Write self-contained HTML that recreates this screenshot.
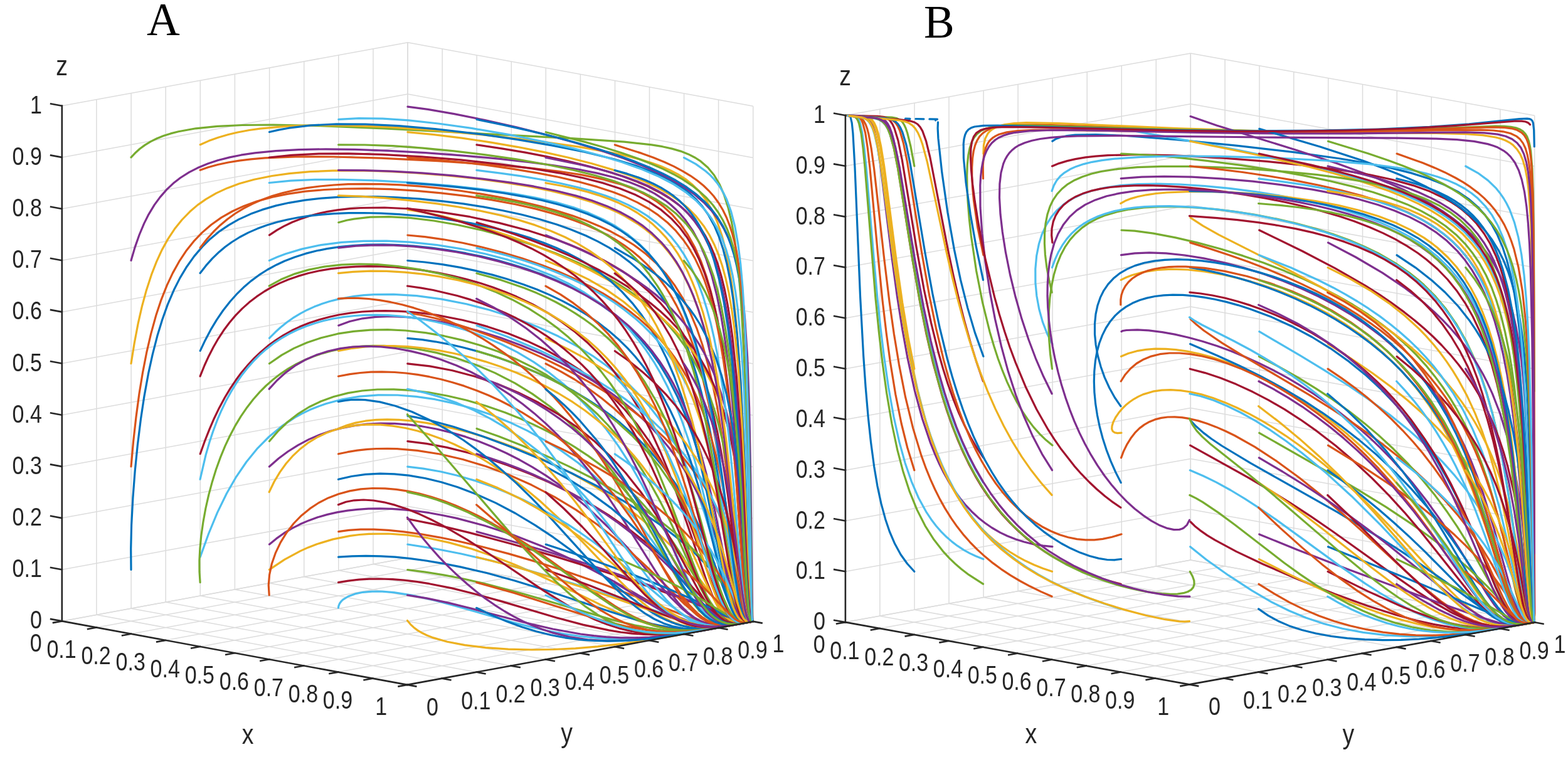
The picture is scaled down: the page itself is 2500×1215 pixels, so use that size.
<!DOCTYPE html>
<html><head><meta charset="utf-8"><style>
html,body{margin:0;padding:0;background:#fff;}
svg{display:block}
.g{stroke:#dcdcdc;stroke-width:1.5}
.a{stroke:#262626;stroke-width:2.6;stroke-linecap:square}
.tr path{fill:none;stroke-width:3.2;stroke-linejoin:round;stroke-linecap:round}
.t{font-family:"Liberation Sans",Arial,sans-serif;font-size:40px;fill:#262626}
.l{font-family:"Liberation Sans",Arial,sans-serif;font-size:44px;fill:#262626}
.h{font-family:"Liberation Serif","Times New Roman",serif;font-size:73px;fill:#000}
</style></head><body>
<svg width="2500" height="1215" viewBox="0 0 2500 1215">
<rect width="2500" height="1215" fill="#fff"/>
<line x1="98.8" y1="990.4" x2="98.8" y2="168.7" class="g"/>
<line x1="98.8" y1="990.4" x2="650.1" y2="889.4" class="g"/>
<line x1="650.1" y1="889.4" x2="650.1" y2="67.7" class="g"/>
<line x1="650.1" y1="889.4" x2="1200.7" y2="990.9" class="g"/>
<line x1="98.8" y1="990.4" x2="650.1" y2="889.4" class="g"/>
<line x1="98.8" y1="990.4" x2="649.4" y2="1091.9" class="g"/>
<line x1="153.9" y1="980.3" x2="153.9" y2="158.6" class="g"/>
<line x1="98.8" y1="908.2" x2="650.1" y2="807.2" class="g"/>
<line x1="705.2" y1="899.5" x2="705.2" y2="77.8" class="g"/>
<line x1="650.1" y1="807.2" x2="1200.7" y2="908.7" class="g"/>
<line x1="153.9" y1="1000.5" x2="705.2" y2="899.5" class="g"/>
<line x1="153.9" y1="980.3" x2="704.5" y2="1081.8" class="g"/>
<line x1="209.1" y1="970.2" x2="209.1" y2="148.5" class="g"/>
<line x1="98.8" y1="826.1" x2="650.1" y2="725.1" class="g"/>
<line x1="760.2" y1="909.7" x2="760.2" y2="88" class="g"/>
<line x1="650.1" y1="725.1" x2="1200.7" y2="826.6" class="g"/>
<line x1="208.9" y1="1010.7" x2="760.2" y2="909.7" class="g"/>
<line x1="209.1" y1="970.2" x2="759.7" y2="1071.7" class="g"/>
<line x1="264.2" y1="960.1" x2="264.2" y2="138.4" class="g"/>
<line x1="98.8" y1="743.9" x2="650.1" y2="642.9" class="g"/>
<line x1="815.3" y1="919.9" x2="815.3" y2="98.1" class="g"/>
<line x1="650.1" y1="642.9" x2="1200.7" y2="744.4" class="g"/>
<line x1="264" y1="1020.9" x2="815.3" y2="919.9" class="g"/>
<line x1="264.2" y1="960.1" x2="814.8" y2="1061.6" class="g"/>
<line x1="319.3" y1="950" x2="319.3" y2="128.3" class="g"/>
<line x1="98.8" y1="661.7" x2="650.1" y2="560.7" class="g"/>
<line x1="870.3" y1="930" x2="870.3" y2="108.3" class="g"/>
<line x1="650.1" y1="560.7" x2="1200.7" y2="662.2" class="g"/>
<line x1="319" y1="1031" x2="870.3" y2="930" class="g"/>
<line x1="319.3" y1="950" x2="869.9" y2="1051.5" class="g"/>
<line x1="374.4" y1="939.9" x2="374.4" y2="118.2" class="g"/>
<line x1="98.8" y1="579.5" x2="650.1" y2="478.5" class="g"/>
<line x1="925.4" y1="940.2" x2="925.4" y2="118.5" class="g"/>
<line x1="650.1" y1="478.5" x2="1200.7" y2="580.1" class="g"/>
<line x1="374.1" y1="1041.2" x2="925.4" y2="940.2" class="g"/>
<line x1="374.4" y1="939.9" x2="925" y2="1041.4" class="g"/>
<line x1="429.6" y1="929.8" x2="429.6" y2="108.1" class="g"/>
<line x1="98.8" y1="497.4" x2="650.1" y2="396.4" class="g"/>
<line x1="980.5" y1="950.3" x2="980.5" y2="128.6" class="g"/>
<line x1="650.1" y1="396.4" x2="1200.7" y2="497.9" class="g"/>
<line x1="429.2" y1="1051.3" x2="980.5" y2="950.3" class="g"/>
<line x1="429.6" y1="929.8" x2="980.2" y2="1031.3" class="g"/>
<line x1="484.7" y1="919.7" x2="484.7" y2="98" class="g"/>
<line x1="98.8" y1="415.2" x2="650.1" y2="314.2" class="g"/>
<line x1="1035.5" y1="960.5" x2="1035.5" y2="138.8" class="g"/>
<line x1="650.1" y1="314.2" x2="1200.7" y2="415.7" class="g"/>
<line x1="484.2" y1="1061.5" x2="1035.5" y2="960.5" class="g"/>
<line x1="484.7" y1="919.7" x2="1035.3" y2="1021.2" class="g"/>
<line x1="539.8" y1="909.6" x2="539.8" y2="87.9" class="g"/>
<line x1="98.8" y1="333" x2="650.1" y2="232" class="g"/>
<line x1="1090.6" y1="970.6" x2="1090.6" y2="148.9" class="g"/>
<line x1="650.1" y1="232" x2="1200.7" y2="333.5" class="g"/>
<line x1="539.3" y1="1071.6" x2="1090.6" y2="970.6" class="g"/>
<line x1="539.8" y1="909.6" x2="1090.4" y2="1011.1" class="g"/>
<line x1="595" y1="899.5" x2="595" y2="77.8" class="g"/>
<line x1="98.8" y1="250.9" x2="650.1" y2="149.9" class="g"/>
<line x1="1145.6" y1="980.8" x2="1145.6" y2="159" class="g"/>
<line x1="650.1" y1="149.9" x2="1200.7" y2="251.4" class="g"/>
<line x1="594.3" y1="1081.8" x2="1145.6" y2="980.8" class="g"/>
<line x1="595" y1="899.5" x2="1145.6" y2="1001" class="g"/>
<line x1="650.1" y1="889.4" x2="650.1" y2="67.7" class="g"/>
<line x1="98.8" y1="168.7" x2="650.1" y2="67.7" class="g"/>
<line x1="1200.7" y1="990.9" x2="1200.7" y2="169.2" class="g"/>
<line x1="650.1" y1="67.7" x2="1200.7" y2="169.2" class="g"/>
<line x1="649.4" y1="1091.9" x2="1200.7" y2="990.9" class="g"/>
<line x1="650.1" y1="889.4" x2="1200.7" y2="990.9" class="g"/>
<g class="tr"><path d="M209 908.3 208.7 874.9 209.6 837.3 211.9 793.7 215.2 750.8 219.4 709.2 224.5 668 230 631.6 236.7 594.9 243.3 564.8 250.9 535.3 258.7 509.8 267.4 485.4 277.3 462.3 287 443.1 297.8 425.2 309.6 408.6 322.6 393.4 334.9 381.2 350.3 368.6 364.8 358.8 380.5 349.9 399.8 341.1 418 334.4 440.2 327.9 461 323.3 486.2 319.1 513 316.1 541.3 314.2 570.8 313.4 601.6 313.6 633.2 314.8 669.6 317.2 706.2 320.8 738.7 324.9 770.7 329.9 801.9 335.7 832 342.3 860.8 349.7 887.9 358 910.3 365.9 934.1 375.7 953.5 385.1 971.6 395.2 988.2 406 1003.6 417.6 1017.8 429.9 1030.8 443 1044.3 458.9 1053.6 471.4 1063.6 486.7 1072.8 502.6 1081.1 519.1 1088.8 536.1 1096.8 556.2 1104 576.8 1110.5 597.7 1117.8 624.1 1124.3 650.7 1131.1 682.2 1137.5 715.4 1148.8 783.8 1168.4 917.6 1176.1 959.7 1181.1 977.3 1183.6 983.4 1186.2 987.6 1188.9 990.2 1191.9 991.5 1195.3 991.7 1200.7 990.9" stroke="#0072BD"/><path d="M209 743.9 212.6 703.9 217 664.7 222 627.5 227.7 593.1 233.7 562.2 240.7 532.1 248.7 503.1 256.9 478.3 266.2 454.9 275.4 435.4 285.5 417.2 296.6 400.3 308.8 384.9 322.2 370.9 336.9 358.2 352.9 346.9 370.3 337 389.1 328.4 409.5 321 434.3 314.2 458 309.4 486.6 305.2 517.1 302.5 549.4 301 583.2 300.7 622.4 301.7 662.6 304.1 703.3 307.8 743.8 312.6 783.5 318.6 821.8 325.7 854.5 333.1 878.6 339.6 898.3 345.5 917 351.9 934.7 358.8 951.4 366.2 967.1 374 981.8 382.4 995.5 391.3 1008.4 400.8 1020.3 410.8 1031.4 421.3 1041.8 432.5 1051.3 444.2 1061.7 458.5 1069.8 471.4 1078.6 487.1 1086.6 503.4 1094 520.3 1106.9 555.6 1119.2 597.8 1129.9 643.4 1138.2 685.9 1146.3 734.2 1154.6 791.8 1171.4 918.5 1175.9 946.8 1180 967.2 1184.1 980.7 1186.2 985.3 1188.4 988.6 1190.7 990.5 1193.2 991.5 1200.7 990.9" stroke="#D95319"/><path d="M209 579.6 214.2 547.2 220.2 515.6 226.4 488.4 233.5 462.4 241.5 437.9 249.4 417.6 258.1 398.6 267.8 381.1 278.4 365.1 290.1 350.5 302.9 337.3 315.1 326.9 328.3 317.6 344.6 308.1 362.4 299.9 381.6 292.8 405.1 286.2 433.6 280.5 461.4 276.6 494.7 273.7 530.4 272.2 572.1 271.9 616 273.1 661.2 275.6 711.2 279.6 756.7 284.5 800.8 290.3 842.8 297.2 878.6 304.4 911.7 312.5 942 321.6 969.4 331.9 984.5 338.6 996.3 344.6 1017.9 357.6 1027.8 364.7 1039 373.7 1047.6 381.6 1057.3 391.6 1064.8 400.5 1073.3 411.6 1081.1 423.3 1088.4 435.6 1101.3 462 1112.5 490.4 1122.8 523.2 1132.2 560.4 1140.6 601.6 1148.5 648.6 1154.2 689.3 1159.9 735.9 1178.2 915.1 1181.7 944.5 1184.8 964.9 1187.9 979.3 1191.3 987.8 1193 989.9 1195 991.1 1197.2 991.4 1200.7 990.9" stroke="#EDB120"/><path d="M209 415.3 215.2 394.1 222.1 374.5 229.7 356.4 237 341.8 246.2 326.6 255 314.6 265.9 302.1 276.3 292.3 287.6 283.5 301.6 274.6 314.9 267.8 331.3 261 346.9 255.8 366.1 250.9 384.2 247.2 406.4 243.9 439.7 240.6 476.2 238.6 519.4 237.8 565.9 238.4 619.3 240.3 678.9 243.6 738.8 248.1 797.2 253.4 844.5 258.7 884.8 264 921.8 270 952.3 276.1 979.7 283 1004.3 290.8 1026.2 299.6 1043.7 308.6 1061 319.8 1068.9 326 1077.7 334 1084.5 341 1092.2 350 1104.8 368.2 1115.7 388.4 1126 412.9 1134.9 439.8 1143 471.4 1150 505.4 1156.2 543.9 1161.9 586.6 1167.1 635.4 1174.8 728.7 1186.7 914.2 1190.8 964.3 1192.8 978.7 1194.8 987.2 1197.1 990.7 1198.5 991.2 1200.7 990.9" stroke="#7E2F8E"/><path d="M209 250.9 215.2 244.3 222.9 237.3 231.3 231.1 240.4 225.6 250.2 220.8 260.8 216.6 272.2 212.9 284.6 209.8 312.2 204.8 346.5 201.3 386.4 199.5 435.5 199 510.4 200.6 612.9 204.9 911.8 220.7 995.3 226.1 1038.8 230.9 1056.1 233.7 1071.5 237.1 1085.3 241.1 1097.6 245.9 1108.5 251.5 1117.2 257.2 1128.7 267.3 1138.6 279.3 1147 293.5 1154.2 310 1160.9 330.7 1166.5 354.4 1171.2 381.2 1175.4 413.3 1178.7 446 1181.5 481.1 1186.5 571.4 1190.9 700.4 1196.9 955.2 1198.5 985.2 1199.4 990.1 1199.9 990.9 1200.7 990.9" stroke="#77AC30"/><path d="M319.2 888.1 332.6 851 346.5 817.4 361.4 786.8 376.6 760.3 392.9 736.5 410.8 714.6 428.8 696.5 449.1 679.7 470.2 665.7 481.7 659.4 493.7 653.6 506.4 648.4 519.6 643.7 545.5 636.8 573.3 632.1 602.9 629.8 634 630 663.4 632.3 693.4 636.7 723.7 643.1 754 651.5 783.8 661.6 812.7 673.4 840.6 686.6 867 701.1 894.2 718.1 921.4 737.7 948.1 759.6 973.4 783.4 997.1 808.6 1018.6 834.2 1039.1 861 1057.8 887.6 1091.2 937 1103.6 954.3 1115.5 968.9 1126.1 979.6 1133.4 985.4 1140.8 989.9 1148.3 993 1156.3 994.9 1164.4 995.5 1173.5 995.2 1200.7 990.9" stroke="#4DBEEE"/><path d="M319.2 723.7 326.6 703 334.1 684.1 341.4 667.2 349.5 650.4 358.5 633.8 367 619.6 376.3 605.8 384.8 594.3 395.6 581.5 405.5 570.9 416.1 560.9 427.3 551.4 439.4 542.5 452.2 534.3 465.7 526.8 477.7 521.1 492.8 515 508.7 509.7 525.5 505.2 540.1 502 558.3 499.1 577.3 497 597.1 495.9 614.1 495.6 634.9 496.1 656.3 497.5 678.1 499.8 696.5 502.4 737.2 510.2 759.3 515.7 777.6 520.9 809.8 531.6 840.8 543.9 870.3 557.8 901 574.8 926.4 591.4 952.2 611 975.4 631.6 996.1 653 1016.1 677.1 1035.1 703.6 1052.6 732.1 1069.5 764.1 1083.6 794.4 1097.4 828 1139.7 943 1147 959.8 1153.8 972.6 1158.5 979.6 1163.1 984.9 1167.8 988.9 1172.8 991.5 1177.9 992.9 1183.7 993.3 1200.7 990.9" stroke="#A2142F"/><path d="M319.2 559.4 327.2 542.4 335.9 525.9 345.4 510.1 355.7 495 366.9 480.7 377.2 469.2 388.3 458.3 400.1 448.1 412.8 438.7 426.4 430 440.9 422.2 453.6 416.2 469.9 409.9 487.1 404.4 505.3 399.8 521.3 396.6 541.3 393.6 562.4 391.5 584.4 390.2 611.1 389.9 634.8 390.6 659.1 392.2 688 395.2 713.2 398.6 742.6 403.7 767.7 408.9 792.5 414.9 816.8 421.7 840.5 429.1 863.3 437.3 885.1 446.2 906 455.8 932 469.5 955.9 484.2 977.7 500 999.7 518.8 1019.3 538.6 1036.5 559.4 1051.7 580.9 1066.4 605.5 1080.3 633 1092.2 660.7 1104 693.3 1114.6 727.4 1122.2 755.4 1130.3 788.4 1139.4 829.7 1159.5 926.4 1165.3 950.3 1170.5 967.7 1176.5 981.5 1179.6 986.2 1182.8 989.4 1186.1 991.3 1189.8 992.1 1194.1 992 1200.7 990.9" stroke="#0072BD"/><path d="M319.2 395.1 330.1 381 340.2 369.7 351 359.2 362.6 349.5 375 340.5 388.3 332.4 402.5 325 417.7 318.4 433.9 312.6 451.2 307.5 469.7 303.2 489.3 299.7 510 297 532 295 555 293.7 579.2 293.3 608.6 293.6 639.3 294.9 670.9 297.2 703.1 300.4 735.7 304.5 768.2 309.4 800.2 315.1 831.4 321.6 861.4 328.8 886 335.6 913.1 344.1 934.9 352 955.3 360.4 974.2 369.3 991.8 378.8 1010.5 390.5 1029.6 404.8 1046.6 420.1 1061.6 436.3 1076.3 455.8 1089.1 476.4 1100.2 498.1 1110.8 523.3 1119.8 549.5 1128.3 579.2 1136.2 612.1 1143.3 647.8 1150.1 688.4 1159.7 759.1 1177.2 917.5 1183.7 963.8 1187.1 978.8 1190.6 987.7 1192.5 989.9 1194.6 991.2 1197 991.4 1200.7 990.9" stroke="#D95319"/><path d="M319.2 230.7 333 224.6 347.9 219.2 364.1 214.5 378.9 211 397.5 207.5 414.6 205.1 455.9 201.3 503 199.7 556.3 200.1 620.1 202.7 688.8 207.4 769.8 214.8 852.9 224.3 923 234.1 978.7 244.1 1001.2 249.1 1021.5 254.4 1039.7 260 1053.7 265 1068.4 271.4 1081.4 278.2 1093 285.6 1103.2 293.7 1114.8 305 1125.7 319 1135 334.7 1143.6 353.9 1150.9 375.2 1157 398.7 1162.6 426.6 1167.3 456.8 1171 486.2 1174.4 519.9 1180.1 596 1186 713.6 1194.9 955.6 1197.3 985.5 1198.6 990.2 1199.4 991 1200.7 990.9" stroke="#EDB120"/><path d="M429.5 867.9 440.5 858.9 452.7 850.2 465.3 842.6 478.6 835.8 492.4 829.9 506.5 824.8 522 820.4 537.4 816.9 554.1 814.1 570.2 812.3 587.4 811.2 605.6 810.9 624.7 811.4 644.6 812.8 665.4 815 684.3 817.7 706.2 821.7 728.3 826.4 773 838.2 816.9 852.5 863.1 870.4 899.3 886.4 935.6 904 978 926.6 1062.9 974.5 1084.3 985 1102.6 992.3 1113.1 995.3 1123 997.4 1132.9 998.5 1143.3 998.8 1165.3 996.9 1200.7 990.9" stroke="#7E2F8E"/><path d="M429.5 703.5 442.9 687.9 458.3 673 474.5 660.4 492.7 649 511.4 640 532.1 632.5 555 626.6 577.5 623 601.7 621 627.7 620.8 655.2 622.4 684 625.8 713.8 631.2 744.2 638.3 774.9 647.3 805.3 657.8 828.5 667 851.1 677.1 873 687.9 896.8 700.9 916.6 712.8 937.9 726.9 957.6 741.4 975.8 756 996.4 774.3 1016.4 794.2 1035.4 815.3 1053.1 837 1069.1 858.7 1084.2 881.2 1132.5 959.9 1140.5 971.2 1147.9 979.9 1153.3 985 1158.6 988.8 1163.9 991.5 1169.5 993.2 1175.2 993.9 1181.6 993.8 1200.7 990.9" stroke="#77AC30"/><path d="M429.5 539.2 438.8 529.8 447 522.3 457.6 513.8 466.9 507.2 479 499.8 489.7 494.2 501 489.1 513 484.6 525.6 480.5 539 477.1 565 472.4 580.4 470.7 596.6 469.6 627.6 469.4 664.4 471.7 703.3 476.9 743.7 484.8 780.6 494.3 821.2 507.2 856.6 520.9 890.4 536.3 921.9 553.2 944.7 567.3 965.9 582.2 985.4 597.6 1003.2 613.5 1019.4 629.8 1036 648.7 1050.7 667.8 1063.7 687 1077.9 710.8 1089.9 734.1 1102.2 761.2 1113.1 789 1122.8 816.9 1131.7 845.6 1160.1 947 1165 961.9 1169.5 973.2 1175.7 984.3 1178.9 987.9 1182.2 990.4 1185.7 991.8 1189.5 992.3 1200.7 990.9" stroke="#4DBEEE"/><path d="M429.5 374.9 441.6 366.9 452.3 360.9 466 354.3 478.2 349.4 493.8 344.2 507.7 340.5 522.4 337.4 538 334.9 557.8 332.6 575.4 331.5 613.2 331 654.4 333 698.6 337.7 749.4 345.7 796.4 355.6 842.8 367.8 887.1 382.1 908.1 390 928.2 398.4 961.8 414.6 975.6 422.3 991.9 432.2 1004.1 440.4 1018.3 451.1 1036.5 466.6 1052.6 482.8 1066.9 499.6 1079.5 517 1092.1 537.5 1103 558.6 1112.4 580.1 1121.5 604.6 1130 631.9 1137.1 659.2 1144.2 691.3 1151 727.4 1160.7 790.8 1177.5 926.9 1183.9 967.3 1187.2 980.5 1190.7 988.2 1192.6 990.2 1194.6 991.2 1200.7 990.9" stroke="#A2142F"/><path d="M429.5 210.5 444.3 207.1 460.2 204.2 495.5 199.9 536.2 197.8 582.8 198.1 635.5 200.7 693.7 205.6 760.9 213.3 824 222.4 880 231.9 931.9 242.3 977.9 253.5 1014.1 264.3 1044.8 275.9 1058.2 282 1070.4 288.3 1081.4 295 1091.4 301.8 1100.5 309.1 1108.6 316.6 1120 329.4 1129.7 343.2 1138.9 359.9 1146.5 378 1153 397.5 1158.9 420.7 1164.4 448 1168.9 477 1175.5 536.1 1181 609.8 1186.6 723.5 1195 956.4 1197.4 985.5 1198.7 990.2 1199.5 991 1200.7 990.9" stroke="#0072BD"/><path d="M539.8 847.7 556.1 845.3 575 844.1 596.2 844.1 619.2 845.4 643.6 847.9 670.8 851.7 700.5 856.8 729.9 862.8 768.5 871.7 810.8 882.9 852.9 895.1 895.8 908.7 965 932.8 1008.5 949.2 1088.4 980.5 1107.2 987.3 1122.6 992 1140.5 995.8 1156.9 996.9 1173.8 995.5 1200.7 990.9" stroke="#D95319"/><path d="M539.8 683.3 553.3 678 567.1 674.1 582.6 671.2 600.1 669.4 617.2 668.9 636 669.4 656.4 671.2 678.4 674.1 701.9 678.4 726.6 684 752.5 690.8 775.8 697.8 802.8 707 826.6 715.9 850.2 725.6 873.4 735.9 911.6 754.8 946.9 774.7 981.3 796.7 1013.5 820.1 1033.4 836.4 1050.8 851.9 1067.5 868 1084.1 885.5 1107.7 913.3 1122.1 932 1149.5 969.4 1156.5 977.9 1162.5 984.1 1170.4 989.9 1178.3 992.7 1187.1 993 1200.7 990.9" stroke="#EDB120"/><path d="M539.8 519 557.6 512.5 578.1 507.8 599.1 505.3 622.6 504.5 648.9 505.7 674.5 508.5 705.8 513.8 735.5 520.3 766.6 528.7 798.6 538.8 831.1 550.7 863.3 564.1 894.6 578.9 920.9 592.8 945.9 607.6 972.5 625.3 991 639 1008.1 653 1023.9 667.2 1040.6 683.9 1053.6 698.2 1067.3 714.8 1079.4 731.3 1091.6 749.7 1103.4 769.7 1114.5 791.1 1124.6 813.2 1133.7 835.6 1147.7 875.9 1171 956.6 1175 969.1 1178.7 978.4 1183.1 986.2 1187.7 990.5 1192.8 991.9 1200.7 990.9" stroke="#7E2F8E"/><path d="M539.8 354.7 552.7 351.3 564.4 349.1 590.2 346.2 619.9 345.6 653.7 347.4 691.7 352 729.2 358.5 769.2 367.3 810.9 378.5 848.3 390.2 885.2 403.6 920.7 418.4 950 432.5 981.1 449.8 1005.8 465.9 1028.1 482.6 1050.7 502.6 1065.6 518.1 1078.9 534 1090.8 550.2 1102.9 569.3 1113.4 588.7 1122.5 608.3 1131.3 630.7 1139.7 655.7 1146.6 680.3 1152.9 707.1 1158.6 735.4 1164 766.9 1171.9 824.8 1184.6 940.4 1189 972.3 1191.3 982.6 1193.7 988.7 1196.5 991.1 1200.7 990.9" stroke="#77AC30"/><path d="M539.8 190.3 572.1 188.6 610.3 189.2 651.5 191.9 698.7 197 751.6 204.4 808.3 214.1 866.4 225.7 917.8 237.5 956.3 247.8 991.6 258.5 1023.1 269.8 1050.6 281.6 1074.1 293.9 1094 306.9 1110.6 320.6 1124.4 335.1 1134.4 348.5 1142.9 362.6 1150.9 379.7 1157.6 397.8 1163.1 416.9 1168.2 439.5 1172.7 466 1176.4 493.7 1181.9 551.8 1186.2 623.4 1190.5 733.6 1196.7 958.3 1198.3 985.7 1199.3 990.2 1199.8 990.9 1200.7 990.9" stroke="#4DBEEE"/><path d="M650 827.5 692.2 835.9 748.6 849.4 815.6 867.2 884.7 887.1 967.4 912.7 1043.3 938.3 1105 961.1 1177 990.4 1182.7 992 1187.8 992.5 1200.7 990.9" stroke="#A2142F"/><path d="M650 663.1 664.9 665.7 682.6 669.5 722.4 680.3 769.5 695.7 817.8 713.7 866.5 733.9 912.4 755 953.3 775.8 994.3 798.8 1025.4 818.2 1055 838.5 1081.9 859.3 1106.9 881 1130.5 904.8 1150.8 928.9 1166.7 951.3 1185.1 981.9 1189.2 987.8 1191.6 990.1 1194 991.3 1196.6 991.5 1200.7 990.9" stroke="#0072BD"/><path d="M650 498.8 669.9 502 694.2 507.5 720.5 514.8 747.7 523.4 778.2 534.2 807.7 545.6 838.8 558.6 866.9 571.4 895.3 585.3 919.4 598 943.1 611.4 965.9 625.4 987.6 639.7 1008.1 654.4 1027.2 669.3 1044.8 684.3 1058.3 696.9 1073.1 711.8 1086.5 726.6 1098.5 741.2 1110.9 757.7 1121.7 773.8 1131.1 789.3 1140.2 806.2 1154.5 837.2 1166.2 869 1173 891.6 1179 914.9 1193.4 983.4 1194.9 987.8 1196.4 990.2 1198.1 991.1 1200.7 990.9" stroke="#D95319"/><path d="M650 334.5 675.7 338.3 705 344.5 736.9 352.8 774 363.7 811.3 376.1 846.7 389.1 883.3 403.9 915.4 418.3 942.4 431.5 968.5 445.6 993.2 460.4 1016.3 475.8 1037.6 491.7 1057 508.1 1074.4 524.9 1090 542 1103.7 559.3 1115.7 576.8 1126.2 594.4 1135.3 612 1144.4 632.4 1152 652.7 1159.3 675.5 1165.2 697.7 1170.1 719.3 1174.6 742.7 1182.2 795 1185.8 828 1188.9 863.3 1196.6 977.4 1198.3 989 1199.2 990.8 1200.7 990.9" stroke="#EDB120"/><path d="M650 170.1 682.2 174.4 724.1 181.6 772.1 191.3 823.3 202.9 868.7 214.2 915.2 227 955.6 239.3 993.8 252.3 1024.4 264.2 1048.1 274.7 1069.4 285.5 1091.1 298.5 1107.2 310 1123.2 323.8 1134.7 336.2 1146 351.1 1154 364.4 1161.8 380.5 1168.1 397.3 1173.3 414.9 1178.1 435.8 1181.8 457.5 1185.1 482.8 1187.7 508.9 1191.6 569 1194.6 650.5 1196.7 757.8 1199.3 966.1 1199.9 986.8 1200.2 990.3 1200.7 990.9" stroke="#7E2F8E"/><path d="M319.1 928.6 318 911.9 317.9 893.7 318.9 874.5 320.8 854.4 323.9 832.5 327.9 810.5 332.8 788.9 338.4 768.2 344.4 748.8 351.5 729.1 358.9 711.1 366.4 695.2 374.7 679.4 383.9 664.1 394 649.4 403.8 636.8 414.3 624.9 424.2 615 436.3 604.4 447.6 595.8 459.5 587.9 472.1 580.7 485.3 574.2 499.2 568.5 513.6 563.6 528.7 559.5 544.4 556.2 560.6 553.7 577.4 552.1 594.6 551.3 612.1 551.4 630.1 552.3 664 556.2 695.8 562.4 727.5 570.9 758.8 581.7 789.2 594.6 820.9 610.9 848.6 627.9 876.7 648 904.6 671.3 930 696 954.4 723.3 978.8 754.5 1000.1 785.2 1020.6 817.9 1038.9 849.6 1075.3 915 1089 938.2 1102.7 958.7 1115 973.7 1123.4 981.6 1131.9 987.8 1140.7 992.2 1149.7 994.8 1159 995.9 1169.4 995.7 1181.5 994.3 1200.7 990.9" stroke="#77AC30"/><path d="M319.1 764.2 328.1 725.4 333.8 705.6 339.7 687.8 346.3 670.2 352.9 654.7 360.2 639.6 368.2 624.9 376.9 610.7 385.1 598.8 394 587.4 403.5 576.6 413.6 566.4 424.3 556.9 435.7 548 447.8 539.9 460.5 532.6 473.9 526 488 520.2 502.7 515.2 515.8 511.5 531.7 508 548.1 505.3 565 503.5 582.5 502.4 600.4 502.2 618.6 502.7 637.2 504.1 656 506.3 674.9 509.2 693.9 513 713 517.5 742.6 526.2 771.7 536.7 800 549 824.8 561.6 850.8 577.1 875.3 594 898.3 612.2 919.7 631.7 942.9 655.8 965.5 682.9 985.6 710.6 1006 742.2 1023.7 773.2 1041 806.3 1057.4 840.1 1088.3 906.3 1100.7 931.6 1113.2 953.9 1124.3 970.2 1131.9 978.9 1139.3 985.5 1147.2 990.4 1155.3 993.5 1163.5 994.9 1173 995 1183.7 993.8 1200.7 990.9" stroke="#4DBEEE"/><path d="M319.1 599.9 326.1 582.5 332.9 567.7 340.2 553.5 348.1 539.8 356.6 526.8 365.8 514.5 375.6 502.9 386.1 492.1 397.3 482.1 409.2 472.9 421.8 464.5 433.2 457.9 445.2 451.9 459.7 445.8 475 440.4 491.1 435.8 507.8 432 527.6 428.7 545.7 426.6 567 425.1 586.2 424.6 608.7 424.9 628.8 426 652 428.1 675.5 431.1 699 435.1 722.5 440 742.9 445 765.9 451.5 785.6 458 804.9 465.2 823.7 473.1 849.6 485.5 874.2 499.3 895.1 512.9 916.9 529.2 937.2 546.8 956 565.6 973.4 585.3 989.3 606 1006.7 631.7 1022.4 658.1 1038.6 689.3 1053.7 722.4 1067 754.7 1080.6 791.4 1125.8 924.3 1135.1 947.9 1143.7 965.6 1149.3 974.8 1155 982.2 1160.9 987.6 1166.9 991.1 1173.1 993.1 1180.1 993.7 1188.1 993 1200.7 990.9" stroke="#A2142F"/><path d="M319.1 435.6 328.5 423.4 338.6 412.1 349.4 401.7 359.2 393.5 369.6 386 382.4 378 396 370.9 410.4 364.6 425.6 359 441.5 354.2 458.2 350.2 475.8 346.8 494 344.1 513 342.1 532.7 340.6 555.9 339.7 579.9 339.5 607.6 340.2 635.9 341.7 664.6 344 693.5 347.2 722.3 351.1 750.8 355.9 775.7 360.9 800.1 366.5 823.8 372.9 846.7 379.9 865.9 386.7 887 395.3 904.7 403.4 921.5 412.2 937.5 421.7 956.8 434.9 974.8 449.3 991.4 464.9 1008.4 483.6 1022.4 501.5 1036.7 522.7 1049.6 545.1 1062.4 570.9 1074.9 600 1085.9 629.8 1096.4 662.4 1106.9 699.7 1115.9 735.7 1125.1 776.4 1154.5 919 1160.3 943.2 1165.6 961.6 1169.2 971.4 1172.7 979 1176.3 984.7 1180 988.7 1183.8 991.1 1188.1 992.2 1193 992.1 1200.7 990.9" stroke="#0072BD"/><path d="M319.1 271.2 331.8 266.8 347.3 262.5 363.8 259 381.4 256.1 400 253.8 422.4 251.9 471.2 249.9 531.6 250 607.4 252.2 697.7 256.7 787.1 262.7 842 267.6 889.8 273 928 278.9 962.6 286.1 991.4 294.3 1005.6 299.5 1017.2 304.4 1028.1 309.8 1038.4 315.6 1048.1 322 1057.2 328.9 1071.3 341.7 1085.2 357.6 1096.5 374 1107.6 394 1117.4 416.1 1126.1 440.2 1133.7 466.3 1141 496.7 1147.7 531.4 1153.6 567.6 1158.9 607.4 1164 652.8 1171.6 736.2 1184.4 911.8 1189 961.7 1191.3 977.6 1193.8 986.9 1195.1 989.4 1196.5 990.8 1198.1 991.2 1200.7 990.9" stroke="#D95319"/><path d="M429.4 908.4 453.8 892.1 478.8 878.6 491.4 872.9 504.9 867.7 530.8 859.9 558.3 854.4 573.1 852.5 588.4 851.3 619.1 851 649.8 853.2 681.6 857.7 715.9 865.1 750.2 874.6 787.5 887.3 819.9 900 855.4 915.3 889.5 931.3 957.8 964.4 988.4 978.4 1018.8 990.3 1044.9 998.2 1060.7 1001.6 1076.1 1003.7 1091.9 1004.7 1108.1 1004.5 1124.4 1003.3 1143.3 1000.9 1200.7 990.9" stroke="#EDB120"/><path d="M429.4 744 444.2 731 459 720 475.1 709.8 492.4 700.6 509.1 693.5 526.8 687.3 545.5 682.4 565.2 678.6 585.8 676.2 607.2 675.1 629.3 675.4 652 677.1 672.4 679.7 695.7 684 719.1 689.6 742.3 696.4 762.8 703.5 785.3 712.5 807.3 722.5 828.6 733.3 849 744.9 870.6 758.4 891 772.5 910 787 939.5 811.9 969.6 840.5 1002.1 875.2 1053.8 935.1 1070.5 953.6 1088.8 971.5 1097.3 978.5 1105.3 984.2 1114.6 989.5 1124.1 993.4 1133.7 996 1143.7 997.4 1154 997.5 1165.7 996.6 1200.7 990.9" stroke="#7E2F8E"/><path d="M429.4 579.7 449.2 566.1 468.6 555.4 489.5 546.2 511.9 538.7 538.5 532.2 563.8 528.3 590.4 526.1 618 525.7 646.4 527 678.7 530.6 708 535.7 737.2 542.4 766.1 550.7 794.3 560.6 821.5 572 850.4 586.1 872.3 598.5 893 611.8 912.5 625.8 932.9 642.4 951.8 659.7 969 677.5 984.8 695.6 1000.8 715.9 1013.8 734.1 1025.6 752.2 1037.4 772 1048.1 791.1 1059.5 813.1 1072 838.8 1106.6 915.6 1117.9 939.5 1130.4 962.3 1136.2 970.9 1141.5 977.7 1147.2 983.6 1152.9 988.1 1159 991.3 1165.3 993.4 1171.8 994.3 1179 994.2 1200.7 990.9" stroke="#77AC30"/><path d="M429.4 415.4 442.2 409.8 455.5 404.7 481.1 397.1 511.8 390.6 544.7 386.4 579.6 384.3 616.3 384.2 654.2 386.2 696.7 390.7 735.5 396.8 773.6 404.7 810.6 414.4 845.8 425.9 878.9 439 906.6 452.2 932.1 466.7 958 484.3 974.5 497.4 989.8 511.3 1003.9 525.8 1018.6 543.1 1030.4 558.8 1042.7 577.3 1053.7 596.3 1065 618.1 1076.1 642.7 1086.8 669.8 1097 699.2 1107.2 732.6 1115.8 764.4 1124.3 798.3 1153.1 924.9 1159.1 947.4 1164.4 964 1168.1 973.1 1171.7 980.2 1175.4 985.5 1179.3 989.2 1183.2 991.4 1187.7 992.3 1192.8 992.2 1200.7 990.9" stroke="#4DBEEE"/><path d="M429.4 251 465.3 247.3 508.4 245.2 555.3 244.8 609.9 246.3 671.6 249.8 734.3 254.9 795.6 261.5 849.5 268.8 891.5 275.8 929.8 283.7 961 291.8 988.9 300.7 1013.6 310.8 1035.2 322.1 1054.2 334.7 1070.7 348.9 1083.8 363 1095.4 378.5 1105.6 395.4 1114.6 413.6 1123.4 435.5 1131.1 458.9 1138.5 486.4 1144.9 515.3 1150.9 548.2 1156.1 582 1161.2 622 1165.7 664.3 1172.5 741.6 1184.7 912 1189.2 961.3 1191.5 977.4 1193.9 986.8 1195.2 989.3 1196.6 990.8 1198.2 991.2 1200.7 990.9" stroke="#A2142F"/><path d="M539.6 888.2 561.3 886.8 583.3 886.3 606.9 886.8 630.1 888.2 654.4 890.6 679.6 894 705.5 898.3 733.9 903.9 776.5 913.8 820.1 925.7 875.5 942.7 972.1 975 1005.3 985.5 1039.4 994.9 1067.9 1000.6 1081.8 1002.4 1095.4 1003.4 1109 1003.6 1122.7 1002.9 1152.1 999.4 1200.7 990.9" stroke="#0072BD"/><path d="M539.6 723.8 554.3 720.7 569.7 718.2 585.8 716.4 600.2 715.5 617.7 715.3 633.1 715.7 665.1 718.3 701.1 724 737.9 732.5 774.6 743.5 810.6 756.8 847.6 773.3 884.6 792.6 918.3 812.9 952.1 836.3 978.1 856.5 1003.5 878.1 1033 905.5 1091.2 963 1106.7 976.4 1120.2 985.7 1128.2 990 1136.3 993.2 1144.4 995.3 1153 996.4 1161.7 996.5 1171.5 995.7 1200.7 990.9" stroke="#D95319"/><path d="M539.6 559.5 561.9 555.3 582.5 552.8 604.2 551.6 626.8 551.5 650.2 552.6 674.3 555 698.9 558.6 723.9 563.5 748.9 569.5 773.9 576.6 798.5 584.8 822.7 594 846.1 604.2 868.6 615.2 890.1 627 913.3 641.2 932.3 654.3 950.1 667.9 966.7 681.8 982 696 996.1 710.4 1010.9 726.8 1024.3 743.2 1037.8 761.5 1058.4 792.8 1077 825.7 1096.9 865.9 1134.4 948.5 1144.1 966.5 1152.9 979.2 1157.4 984.2 1162.2 988.1 1167 990.9 1172.1 992.7 1177.3 993.5 1183.2 993.5 1200.7 990.9" stroke="#EDB120"/><path d="M539.6 395.2 567.4 392.2 596.9 390.9 628 391.2 660.6 393.2 694.2 396.8 728.4 402 762.8 408.8 796.8 417.1 830 426.7 858 436.3 888.5 448.5 913.6 460.1 937 472.6 961.7 487.9 981.4 502.1 1001.9 519.2 1015.8 532.6 1028.6 546.4 1040.3 560.6 1052.7 577.5 1063.9 594.8 1073.9 612.4 1082.9 630.1 1092 650.5 1101.1 673.4 1109.8 698.5 1118.1 725.5 1126.3 756.1 1140 815.5 1163.2 931.2 1167.9 951.2 1172.1 966.3 1177.9 980.8 1180.8 985.6 1183.8 989 1187 991 1190.4 991.9 1194.5 991.9 1200.7 990.9" stroke="#7E2F8E"/><path d="M539.6 230.8 581.5 231 626.6 232.7 674.4 236.1 723.9 240.8 773.9 246.8 823 253.9 869.9 262 913.4 271 949 279.8 977.5 288.3 1003.1 297.4 1025.8 307.1 1045.7 317.6 1063.2 328.9 1078.4 341.1 1093.2 356 1103.1 368.5 1113.2 383.8 1121.9 400.1 1130.3 419.7 1137.7 440.6 1144 462.7 1150 488.6 1155.6 518.4 1160.4 549.2 1164.8 583.7 1169.1 624.2 1172.9 667.1 1178.5 744.7 1188.2 913.6 1191.7 962.4 1193.5 977.8 1195.4 986.8 1197.5 990.6 1198.7 991.1 1200.7 990.9" stroke="#77AC30"/><path d="M649.9 868 690.5 874.3 735.3 883 782.7 893.8 833.3 906.9 875 918.8 916.4 931.4 967.2 947.7 1068.4 981.8 1091.9 988.9 1110.8 993.8 1131.5 997.3 1150.3 998 1169.7 996.2 1200.7 990.9" stroke="#4DBEEE"/><path d="M649.9 703.6 679.9 707.4 712.2 713.4 746.1 721.7 777.9 731 810 741.9 844.9 755.6 875.7 769.1 908 785 940.6 803 972.4 822.7 1002.4 843.6 1029.8 864.9 1051.2 883.3 1072.5 903.5 1094.9 926.5 1134.7 970.1 1144.1 979.3 1152.2 985.8 1162.1 991.3 1167.1 992.9 1172.2 993.8 1183.3 993.7 1200.7 990.9" stroke="#A2142F"/><path d="M649.9 539.3 673.2 541.7 694.1 544.8 715.9 548.9 738.3 554 761.3 560.1 784.5 567 807.8 574.9 831 583.7 853.9 593.2 876.3 603.5 894.4 612.6 915.4 624 935.4 636 954.3 648.4 972.1 661.1 988.7 674.1 1013.7 696.2 1035.6 718.5 1056.2 742.8 1076.5 770.7 1087 787.2 1097.4 805.1 1107.3 824 1117.3 845 1134.2 885.6 1160.3 956.7 1165.2 968.4 1169.7 977.3 1176 986.2 1179.1 989.1 1182.4 991 1185.8 992.1 1189.6 992.4 1200.7 990.9" stroke="#0072BD"/><path d="M649.9 375 677.7 377.7 707 381.8 737.5 387.3 769 394.2 800.9 402.5 832.8 412 864.1 422.8 890.2 432.9 915.3 443.9 939.1 455.6 961.5 467.9 982.4 480.9 1001.7 494.5 1019.4 508.6 1035.5 523.1 1052.4 540.6 1063.3 553.4 1075.1 569.1 1085.6 584.9 1095.1 601 1103.5 617.1 1112.2 636 1119.8 654.8 1127.3 676.2 1134.6 699.8 1140.7 722.8 1147 749.8 1152.7 777.6 1162.5 834.8 1178 941.2 1183.4 969.8 1186.8 981.8 1190.4 988.7 1192.3 990.5 1194.5 991.4 1200.7 990.9" stroke="#D95319"/><path d="M649.9 210.6 691.7 214.6 736.4 220.1 783 227.1 824.9 234.3 866.4 242.4 906.2 251.3 943.6 260.8 977.8 270.9 1004.9 280.2 1029.1 290 1047.7 298.8 1066.8 309.5 1083.4 320.7 1097.8 332.6 1110.1 345.2 1122.1 360.4 1131 374.5 1138.6 389.4 1145.2 405.1 1151.6 424 1157 443.8 1162.1 467.2 1166.8 494.3 1170.7 522.5 1177.2 586.8 1182.7 668.8 1186.6 749.6 1192.9 918.2 1195.1 964.4 1197.4 986.9 1198.7 990.5 1200.7 990.9" stroke="#EDB120"/><path d="M760.1 847.8 815.2 862.8 875.4 880.3 932.7 898.2 988.5 916.7 1038.3 934.3 1082.6 951 1117.7 965.2 1166.4 986.5 1177.1 990.7 1182.6 992.1 1187.5 992.6 1200.7 990.9" stroke="#7E2F8E"/><path d="M760.1 683.4 795.1 695.8 832.6 710.5 871.5 727.1 907 743.6 941.4 761 974 779 1004 797.2 1031 815.1 1054.8 832.4 1075.5 849 1094.9 866 1113.6 884.4 1133.5 906.5 1150.5 928.4 1164 948.6 1182.2 979.9 1186.9 986.9 1189.8 989.8 1192.7 991.3 1195.8 991.6 1200.7 990.9" stroke="#77AC30"/><path d="M760.1 519.1 808.5 536.7 856.6 556.9 901.5 578.5 941.3 600.3 978.6 623.7 996.1 635.9 1012.6 648.2 1028 660.7 1042.5 673.3 1055.8 685.9 1070.5 700.9 1091.8 725.7 1111.1 752.2 1120 766.2 1129.1 781.9 1143.8 811.5 1151.2 829.1 1157.4 845.4 1168.8 881.5 1177.3 915.4 1188.6 970.2 1191.9 983.1 1193.6 987.7 1195.5 990.3 1197.5 991.2 1200.7 990.9" stroke="#4DBEEE"/><path d="M760.1 354.8 789.1 363.3 819.8 373.3 851.8 384.7 879.6 395.6 907.4 407.4 930.1 417.9 956.6 431.3 977.7 443 1001.6 457.7 1020.2 470.4 1037.4 483.5 1053.4 496.8 1068 510.5 1081.2 524.4 1093.2 538.6 1106 555.7 1115.5 570.2 1125.5 587.6 1132.9 602.1 1140.6 619.6 1147.3 637 1154 657.1 1160.3 679.7 1165.6 701.7 1173.1 741.2 1179.6 786.8 1186.3 853.9 1195.2 974.7 1197.5 988.6 1198.7 990.8 1200.7 990.9" stroke="#A2142F"/><path d="M760.1 190.4 802.4 199.1 842.6 208.1 884.2 218.3 920.5 228 955.7 238.3 984.3 247.5 1011 257.1 1035.5 267 1057.6 277.1 1077.3 287.5 1094.5 298.2 1109.5 309.3 1122.5 320.7 1133.6 332.6 1143 344.9 1152.2 359.8 1158.8 373.2 1165.1 389.5 1170.4 406.5 1174.7 424.2 1178.7 445.2 1181.9 467.1 1187.1 518.9 1190.5 575.9 1193.3 651.1 1195.6 755.6 1198.8 962.6 1199.6 986.3 1200 990.2 1200.7 990.9" stroke="#0072BD"/><path d="M429.2 948.9 428.2 933 429.6 916.5 433.3 899.1 439.2 881.9 447.3 864.9 457 849.2 468.4 834.5 480.7 821.9 494.2 810.9 508.5 801.5 523.4 793.9 539.7 787.7 557.5 782.9 575.2 779.9 594.1 778.5 614 778.8 631.7 780.3 650 783.1 668.7 787.1 687.7 792.3 706.9 798.6 726.2 806 747 815.1 767.6 825.1 804.5 845.6 842.3 869.4 877.1 893.4 948.8 945.2 979.3 965.7 994.4 974.8 1008.9 982.7 1022.3 989 1035.1 994.2 1051.2 999.2 1067 1002.6 1083.7 1004.5 1100.8 1004.8 1118.4 1003.9 1138.7 1001.5 1200.7 990.9" stroke="#D95319"/><path d="M429.2 784.5 437.3 767.8 446.4 752.6 456.2 739 467.4 726.3 479.1 715.4 492 705.6 506.2 697 520.4 690.3 535.7 684.8 552 680.7 569.2 678 587.4 676.8 606.4 677.2 626.1 679.1 646.4 682.5 665.5 687 684.8 692.9 704.3 699.9 723.9 708.2 745.1 718.5 764.4 729 785 741.6 805.2 755 824.7 769.3 841.9 782.9 860 798 894.9 830.1 927.2 862.4 988.9 927.2 1013 950.8 1025.4 961.7 1036.8 970.9 1047.8 978.8 1058 985 1071.7 991.8 1085.6 996.8 1099.8 1000 1114.9 1001.4 1130.3 1001.3 1147.7 999.7 1168 996.7 1200.7 990.9" stroke="#EDB120"/><path d="M429.2 620.2 441.7 606.5 455.4 594.1 470.3 583.2 486.6 573.8 504.1 566.1 522.9 560 542.8 555.6 562.1 553.1 584.1 552.1 607.1 552.9 630.8 555.5 655.1 559.9 679.9 566 702.8 573.2 727.8 582.8 750.6 593 773 604.6 793 616.4 812.6 629.1 833.4 644.2 851.6 658.9 870.8 675.9 889.1 693.6 907.9 713.6 922.6 730.5 937.9 749.4 953.5 769.8 969.1 791.7 996.6 833.3 1046.4 912.7 1064.5 939.5 1081.3 961 1088.9 969.3 1096.4 976.4 1106.5 984.3 1116.6 990.2 1127.2 994.4 1138.2 996.8 1149.4 997.6 1162.3 997 1177.1 995.1 1200.7 990.9" stroke="#7E2F8E"/><path d="M429.2 455.9 448.1 445.6 470.2 436.6 492.1 430.1 517.4 425.1 544.2 422.1 572.5 421 601.9 421.7 634.7 424.6 668.3 429.6 699.9 436.1 731.5 444.4 760.5 453.8 788.9 464.9 816.6 477.7 843.3 492.2 868.8 508.5 889.1 523.4 906.5 537.8 924.8 554.9 942.1 573 958.3 592.1 973.5 612 989 634.7 1003.2 658 1014 677.3 1025.2 698.9 1045.9 743.5 1068.5 799.4 1103.2 893.3 1114.6 922.6 1127.4 951.3 1133.3 962.3 1138.8 971.2 1144.8 979 1150.9 985.1 1157.2 989.6 1163.7 992.5 1170.5 993.9 1178.1 994.2 1186.9 993.3 1200.7 990.9" stroke="#77AC30"/><path d="M429.2 291.5 463.3 288.1 502.4 286.4 546.8 286.3 599.2 287.9 659.6 291.4 718.5 296.2 771.5 302 820.2 309 854.1 315.2 886.3 322.6 914.6 330.8 938.9 339.6 961.8 349.9 981.3 360.5 1001.2 373.9 1017.9 387.7 1031.9 401.4 1044.8 416.5 1056.8 432.9 1069 452.6 1080.1 473.9 1090.2 496.6 1099.3 520.6 1108.3 548.3 1117 579.6 1124.7 611.6 1132 646.5 1139.2 686.3 1151.3 765.6 1171.1 916.7 1178.3 959.7 1182.8 977.2 1185.1 983.2 1187.5 987.4 1190 990 1192.7 991.4 1195.8 991.6 1200.7 990.9" stroke="#4DBEEE"/><path d="M539.5 928.7 555.2 926.1 572.2 924.2 589.1 923.2 607.1 923 626 923.7 644.4 925.2 663.4 927.4 684.3 930.7 720.5 937.9 759.9 947.7 798.8 958.6 886.8 984.7 929.4 996.1 970.6 1004.9 989.7 1008 1007.8 1010.1 1026.7 1011.4 1045.8 1011.8 1065 1011.2 1084.7 1009.7 1127.8 1003.9 1200.7 990.9" stroke="#A2142F"/><path d="M539.5 764.3 560.5 759.5 582.8 756.4 606.2 755.2 628.8 755.9 652 758.1 677.6 762.5 703.6 768.7 729.7 776.7 759.4 788 790.3 801.9 821.8 818.5 853.1 837.3 882.2 856.7 911.5 878.1 939.1 899.6 994.2 943.9 1017.4 961.6 1041.7 977.8 1052.6 984 1063 989.1 1076.8 994.6 1090.2 998.4 1104.2 1000.7 1118.6 1001.6 1133.2 1001.2 1150 999.5 1200.7 990.9" stroke="#0072BD"/><path d="M539.5 600 557.7 596.6 574.3 594.5 591.3 593.2 608.8 592.9 629.2 593.5 647.4 595 665.8 597.4 684.4 600.7 703 604.8 721.5 609.7 740 615.4 760.8 622.9 778.7 630.3 796.3 638.3 813.4 647 832.4 657.7 848.4 667.6 866 679.5 882.8 692 898.7 705 913.9 718.3 928.1 731.9 943.2 747.3 957.2 762.8 982.4 793.6 1006.3 826.3 1028.4 859.3 1069.4 923.7 1084.3 945.6 1098.6 964 1111.4 977.3 1120.1 984.4 1128.9 989.8 1138 993.5 1147.4 995.7 1157.1 996.5 1168.1 996.1 1180.6 994.4 1200.7 990.9" stroke="#D95319"/><path d="M539.5 435.7 563.2 433.3 590.9 432.2 616.3 432.4 645.5 434.1 675.1 437.2 701.6 441.2 731.2 447 757.2 453.4 785.9 461.7 810.6 470.3 834.4 479.9 857.3 490.5 879 502.1 899.5 514.6 918.9 528 937 542.3 951.8 555.4 967.6 571.1 982.3 587.4 995.9 604.3 1008.4 621.7 1021.3 641.7 1033.1 662 1043.8 682.4 1061.5 720.7 1078 761.9 1095.5 811.8 1132.6 927.1 1142.7 953.5 1151.8 971.7 1156.6 979 1161.4 984.6 1166.3 988.7 1171.5 991.5 1176.8 993 1182.9 993.4 1189.8 992.8 1200.7 990.9" stroke="#EDB120"/><path d="M539.5 271.3 579.9 271.6 625.8 273.1 673 275.9 724.4 280.2 771 285.3 812.2 290.8 851.2 297.2 887.7 304.5 918.4 312.1 943.8 319.8 967.1 328.4 988.5 338 1007.9 348.7 1023.7 359.1 1039.7 372.1 1054.3 386.3 1066 400.1 1077.9 416.9 1087.4 432.9 1097.1 452.2 1105.9 472.7 1113.7 494.3 1121.5 519.5 1128.4 545.8 1135.1 575.5 1141.4 608.6 1147.4 644.5 1153.2 685.3 1162.8 766 1178.2 917.5 1183.7 959.9 1187.2 977.1 1190.7 987 1192.6 989.6 1194.6 991 1197 991.4 1200.7 990.9" stroke="#7E2F8E"/><path d="M649.8 908.5 678.1 912.1 709 917.1 740.4 923.3 771.7 930.4 835.7 947.3 975.9 988.1 1011.5 996.9 1041.4 1002.4 1058.4 1004.5 1075.1 1005.7 1091.5 1005.9 1107.9 1005.2 1124.3 1003.6 1142.8 1001.1 1200.7 990.9" stroke="#77AC30"/><path d="M649.8 744.1 674.7 747.1 702.6 752 728.2 758 756.3 766.1 781.6 774.8 808.6 785.5 834.8 797.2 861.9 810.9 883.2 822.8 905.2 836.2 925.7 849.7 946.3 864.2 966.5 879.4 988.6 897.1 1050.9 950.5 1069.5 965.8 1089.9 980.3 1099 985.7 1107.4 989.9 1116.7 993.5 1125.8 996 1135.3 997.6 1145.1 998.1 1155 997.8 1166.5 996.7 1200.7 990.9" stroke="#4DBEEE"/><path d="M649.8 579.8 685.2 583.9 721.3 590.8 757.3 600.2 792.7 612.1 826.8 626.2 859.1 642.3 889.3 660 919.6 680.8 946.8 702.7 973 727.3 997.5 754 1021.3 784 1037.7 807.5 1055 834.7 1074.3 868.3 1115.8 945.2 1127.4 963.7 1137.9 977.3 1144.1 983.4 1150.3 988.1 1156.8 991.5 1163.4 993.6 1170.2 994.5 1177.9 994.4 1200.7 990.9" stroke="#A2142F"/><path d="M649.8 415.5 677.3 418 705.3 421.6 733.3 426.4 757.3 431.4 784.9 438.1 808 444.7 834.3 453.4 856 461.5 876.8 470.4 896.7 479.9 915.6 490 936.3 502.5 952.9 513.8 970.9 527.7 985.2 540.1 1000.6 555.2 1012.7 568.5 1025.7 584.5 1037.6 600.9 1048.4 617.5 1058.2 634.4 1068.4 653.9 1077.5 673.4 1086.6 695.2 1100.4 733.1 1113 773.4 1126.5 823.6 1153 931 1160.1 955.2 1166.8 972.5 1170.1 979 1173.4 984.1 1176.9 987.9 1180.5 990.5 1184.2 991.9 1188.4 992.5 1200.7 990.9" stroke="#0072BD"/><path d="M649.8 251.1 691.9 254.3 734.4 258.5 776.7 263.5 817.8 269.3 857.1 275.9 890 282.3 924.3 290.3 952.2 297.9 977.5 306.3 997.7 314.1 1015.9 322.6 1034.7 333 1049.4 342.9 1064.4 355 1077.7 368.2 1089.4 382.4 1098.5 395.7 1107.9 411.9 1116.1 429.1 1123.4 447.4 1130.7 469 1137.1 491.8 1142.7 515.6 1148.1 542.9 1153.3 573.7 1158.2 607.8 1166.7 683.7 1173.8 765.9 1185 919.1 1188.8 960.4 1191.2 976.9 1193.7 986.7 1195 989.3 1196.5 990.7 1198.1 991.2 1200.7 990.9" stroke="#D95319"/><path d="M760 888.3 819.5 903.3 883.8 921.9 948.9 942.9 1061.5 981.7 1084.6 988.9 1103.2 993.8 1125.6 997.8 1135.8 998.6 1145.8 998.6 1166.9 996.7 1200.7 990.9" stroke="#EDB120"/><path d="M760 723.9 782.1 730.8 804.2 738.3 826 746.6 850.5 756.8 871.3 766.3 894.3 777.6 916.1 789.3 936.7 801.2 962.8 817.8 986.3 834.3 1009 851.7 1032 870.9 1048.8 886.3 1065.5 902.7 1085 923 1125.2 967.1 1135.8 977.4 1144.7 984.7 1150.6 988.5 1156.3 991.2 1162 993.1 1167.9 994.2 1180.7 994.1 1200.7 990.9" stroke="#7E2F8E"/><path d="M760 559.6 798.3 571.4 832.5 584 865.6 598.4 897.1 614.3 926.6 631.4 956.7 651.7 983.8 672.8 1007.7 694.5 1030.6 718.6 1051.9 744.6 1071 772.1 1087.9 800.2 1101.5 826.4 1114.1 853.6 1127.4 885.7 1153.2 952.9 1160 968.2 1166 978.8 1172.9 987.2 1176.4 989.9 1180.1 991.6 1183.9 992.5 1188.1 992.7 1200.7 990.9" stroke="#77AC30"/><path d="M760 395.3 787.1 401.7 809.6 407.7 836.3 415.8 858.1 423.1 883.5 432.7 903.9 441.3 927.2 452.2 945.6 461.9 963.1 472 979.5 482.5 994.8 493.4 1011.8 506.9 1024.9 518.6 1039.3 533 1050.2 545.3 1062.2 560.4 1071.3 573.2 1079.6 586.1 1087.2 599.2 1095.5 615 1109.6 646.8 1121.9 681 1129 704.2 1135 726.8 1146.7 778.5 1156.4 831.4 1173.1 935.2 1179.7 967.5 1183.9 981 1186.1 985.4 1188.3 988.6 1190.6 990.5 1193.2 991.5 1200.7 990.9" stroke="#4DBEEE"/><path d="M760 230.9 801.6 237.1 837.6 243.2 872.6 249.9 906 257.1 937.4 264.7 966.5 272.7 993 281.2 1013.6 288.9 1032.3 296.9 1051.7 306.7 1066.5 315.5 1081.8 326.4 1093.2 336.3 1105 348.5 1115.2 361.4 1124 375.1 1131.7 389.5 1138.4 404.8 1144.3 420.9 1150 440.2 1155 460.4 1159.8 484.2 1163.9 508.9 1167.8 537.2 1174.4 601.3 1180.1 679.4 1184.1 753.7 1191.2 914.6 1193.8 961.8 1195.2 977.4 1196.6 986.5 1198.2 990.5 1199.2 991 1200.7 990.9" stroke="#A2142F"/><path d="M870.3 868.1 913.1 882 957 897.2 997.2 911.8 1036.8 927.1 1071.2 941.3 1102.1 954.8 1130 967.9 1166.8 986.2 1176.1 990.3 1181.8 992 1186.9 992.6 1192.3 992.3 1200.7 990.9" stroke="#0072BD"/><path d="M870.3 703.7 899.1 717.4 927.4 731.8 951.2 744.8 977 760 1001.1 775.4 1023.2 790.7 1045.5 807.6 1065.3 823.9 1084.3 841.2 1101.9 859 1117.7 876.8 1132.3 895.4 1144.4 912.6 1155.7 930.6 1165.9 948.9 1181.1 978.6 1186.4 987 1189.3 989.9 1192.3 991.4 1195.6 991.7 1200.7 990.9" stroke="#D95319"/><path d="M870.3 539.4 907.5 557.6 939.7 575.2 973.7 596.2 1001.6 615.9 1026.9 636 1052.2 659.1 1073.9 682.3 1094.4 707.8 1111.3 732.8 1125.1 756.8 1137.4 781.9 1148.7 809.6 1159.6 842 1168.8 875.9 1175.8 906.8 1186.9 965.3 1190.5 980.8 1192.5 986.7 1194.7 990 1197 991.2 1200.7 990.9" stroke="#EDB120"/><path d="M870.3 375.1 917 394.1 939.7 404.5 961.5 415.4 982.4 426.8 998.2 436.3 1016.9 448.5 1030.9 458.6 1044.1 468.8 1059.3 482 1070.5 492.7 1083.3 506.4 1094.8 520.2 1105.2 534.3 1114.5 548.6 1122.8 563 1130.2 577.4 1136.7 592 1143.7 609.4 1149.6 626.9 1154.8 644.2 1160 664.2 1168.2 703 1175.4 749.9 1181.5 803 1185.8 852.8 1192.4 948.7 1194.7 975 1197.1 988.7 1198.5 990.8 1200.7 990.9" stroke="#7E2F8E"/><path d="M870.3 210.7 932.6 226.4 962.3 234.8 990.3 243.5 1016.2 252.5 1036 260.2 1057.7 269.6 1073.8 277.7 1088.3 285.9 1103.7 296.1 1114.9 304.9 1126.7 315.7 1136.7 327 1145.2 338.8 1152.5 351 1159.6 366 1164.7 379.4 1169.6 395.7 1173.8 412.8 1177.2 430.6 1183 473.9 1187.3 525.9 1190.2 579.9 1192.7 649 1195 751.2 1198.4 960.2 1199.4 985.9 1199.9 990.2 1200.7 990.9" stroke="#77AC30"/><path d="M539.4 969.2 540 965.8 541.5 962.3 543.7 959.2 546.8 956.2 555.1 951 566.1 946.9 578.7 944.3 593.4 943.1 609.5 943.2 627.8 944.6 656.7 949.1 691 956.8 724.6 965.7 817.4 992.2 845.3 999.4 870.5 1005.2 898.3 1010.6 924.5 1014.5 949.8 1017.2 974.6 1018.6 995.9 1018.8 1017.3 1018.2 1039.2 1016.6 1062.1 1014.2 1112.7 1006.7 1200.7 990.9" stroke="#4DBEEE"/><path d="M539.4 804.8 551.6 800.3 564.7 797.8 579.6 797 595.5 798 612.2 800.8 630.1 805.4 649.3 811.8 669.6 820.1 686.4 828 704.9 837.4 744.9 860.7 782 884.5 866.9 941.8 907.3 966.8 928 978.1 948.2 987.7 967.7 995.5 986.4 1001.6 1006.8 1006.4 1027.1 1009.4 1048 1010.7 1070.2 1010.3 1093 1008.5 1119.1 1005.1 1200.7 990.9" stroke="#A2142F"/><path d="M539.4 640.5 549.8 638.6 559.9 637.5 571.4 637.2 582.4 637.7 605.6 640.9 630.4 647.2 656.6 656.5 684 669.1 712.1 684.6 739.2 702 759.2 716.4 780.5 733 801.4 750.7 823.2 770.4 846.8 793.4 872.9 820.4 953.6 909.4 982.7 939.7 998.9 955 1014.4 968 1029.2 978.7 1043.2 987 1058.1 993.9 1073.3 998.9 1088.9 1001.9 1105.2 1003.1 1122.3 1002.7 1141.7 1000.8 1164.3 997.4 1200.7 990.9" stroke="#0072BD"/><path d="M539.4 476.2 554.9 475.3 571.1 475.4 587.8 476.5 605.1 478.6 622.8 481.7 641.1 485.8 659.8 490.9 678.8 497.1 698.2 504.4 715.9 512 733.9 520.4 751.8 529.9 769.8 540.2 785.8 550.4 803.5 562.6 819.2 574.4 836.3 588.3 851.3 601.6 866 615.6 881.9 631.8 895.6 647 910.3 664.4 924.4 682.3 939.2 702.3 963.9 739.1 988 779 1010.1 818.4 1053 898.4 1069.4 927 1085.3 951.5 1092.7 961.4 1100 969.9 1109.9 979.6 1119.7 986.9 1130 992.2 1140.6 995.4 1151.4 996.8 1163.9 996.6 1178.1 994.9 1200.7 990.9" stroke="#D95319"/><path d="M539.4 311.8 575.3 313.2 612.7 315.7 653.7 319.6 694 324.5 730.8 330 765.9 336.3 798.9 343.5 827.3 350.9 853.1 358.9 878.3 368.2 900.7 378 920.5 388.2 939.5 399.6 957.6 412.4 974.9 426.6 989.6 440.6 1002.1 454.1 1013.9 468.5 1025 483.8 1036.8 502.1 1046.6 519.3 1056.8 539.5 1066.4 560.5 1075.2 582.2 1085 609.5 1094.6 639.7 1103.3 669.9 1112.1 704.7 1128.1 776.8 1155 914.3 1160.8 939.9 1166.1 959.3 1169.6 969.8 1173.1 977.8 1176.6 984 1180.3 988.3 1184 990.9 1188.2 992.1 1193.1 992.1 1200.7 990.9" stroke="#EDB120"/><path d="M649.6 949 680.1 953.9 715.7 961.4 749.6 969.8 835.1 992.2 881.5 1003 925.7 1011 946.7 1013.7 966.3 1015.6 989.4 1016.8 1012.7 1016.9 1035.7 1016 1060 1013.9 1084.2 1011 1111.6 1006.8 1200.7 990.9" stroke="#7E2F8E"/><path d="M649.6 784.6 664.9 787.9 680.4 792 696.1 796.8 713.5 803 746.6 817.1 780.7 834.4 812.2 852.7 846.2 874.6 877.7 896.5 942.6 943.2 972.8 963.6 988.3 973.1 1003.2 981.3 1016.9 988 1030.2 993.4 1046.7 998.8 1063.4 1002.5 1080.4 1004.6 1098.3 1005.1 1116.6 1004.1 1137.3 1001.8 1200.7 990.9" stroke="#77AC30"/><path d="M649.6 620.3 677.3 626.1 703.1 633.4 728.9 642.6 756.6 654.6 781.5 667.4 807.8 682.9 832.9 700 858.5 719.7 877.5 736 895.5 752.7 913.9 771.3 932.4 791.4 950.7 812.8 970.9 837.9 1030.9 917.9 1051 943.3 1062.1 956 1072.6 966.8 1082.5 975.7 1092.4 983.1 1102.9 989.3 1113.2 993.7 1124.2 996.8 1135.5 998.3 1147.2 998.5 1160.6 997.5 1200.7 990.9" stroke="#4DBEEE"/><path d="M649.6 456 671.4 459.1 690.6 462.5 728.9 471.5 750.5 477.9 769.2 484.2 787.5 491.3 805.5 498.9 823 507.3 840 516.3 856.5 526 870.2 534.8 885.5 545.6 900.3 557.1 914.4 569.1 927.9 581.6 940.7 594.6 952.8 608 964.4 621.9 976.8 638.1 988.4 654.6 999.3 671.4 1010.8 690.4 1021.3 709.5 1039.2 745.1 1057.1 785.1 1073.7 825.5 1103.8 903.1 1115 930 1125.5 952.1 1135.1 968.7 1141.7 977.5 1148.2 984.2 1154.8 989.1 1161.7 992.3 1168.8 994 1176.9 994.3 1186.1 993.4 1200.7 990.9" stroke="#A2142F"/><path d="M649.6 291.6 689.5 294.6 729.4 298.4 768.6 303 803.6 308 834.2 313.3 863.4 319.3 891.1 326.2 914.7 333.3 936.8 341.2 955.3 349 974.8 358.9 990.9 368.5 1007.7 380.5 1021.6 392.3 1034.5 405 1047.9 420.6 1057.5 433.6 1067.7 449.4 1077 466.3 1085.7 484 1093.6 502.7 1101.8 524.6 1109.2 547.4 1115.9 570.8 1123.2 600.1 1129.7 629.7 1136 661.9 1142.3 698.8 1153.1 772 1171.6 915.6 1178.6 958.6 1183 976.7 1185.3 982.9 1187.7 987.2 1190.1 989.9 1192.8 991.3 1195.9 991.6 1200.7 990.9" stroke="#0072BD"/><path d="M759.9 928.8 819.8 945.5 923.3 978.2 960.2 989.2 997.6 998.6 1030 1004.5 1047.6 1006.6 1065.1 1007.6 1082 1007.6 1099.7 1006.7 1117.4 1004.9 1137.6 1002 1200.7 990.9" stroke="#D95319"/><path d="M759.9 764.4 793.9 778.1 826.5 793.7 859.1 811.8 892.8 833.3 923.1 855 952.7 878.3 979.6 901.1 1031.4 946.8 1050.5 962.6 1069.9 976.9 1086.9 987 1098.4 992.2 1109.6 995.9 1121.2 998.2 1133.1 999.3 1145.2 999.1 1159.1 997.8 1200.7 990.9" stroke="#EDB120"/><path d="M759.9 600.1 783.3 608.5 806.1 618 828.1 628.5 851.9 641.4 872 653.7 893.4 668.4 911.3 682 930.1 698 951.2 717.9 972 740.1 992 764.2 1010.9 789.5 1027.4 814 1044.6 841.7 1102.3 943 1114.5 961.4 1125.6 975.1 1133.2 982.4 1140.5 987.9 1148.1 991.7 1156.1 994.2 1164.2 995.2 1173.4 995.1 1184 993.8 1200.7 990.9" stroke="#7E2F8E"/><path d="M759.9 435.8 798.8 446.4 836 459.2 855.4 467.1 870.9 474.1 885.9 481.5 903.2 491 916.9 499.3 932.5 509.7 944.9 518.8 959 530.2 972.2 542 984.6 554.3 996.2 567 1007 580 1017.1 593.3 1028.1 609.2 1046.1 639.5 1062.7 672.6 1078.7 710.2 1090.4 742.2 1101.8 777 1114.6 820.5 1143.2 924.7 1151.5 950.5 1158.8 968.6 1163 976.6 1167.1 982.7 1171.4 987.3 1175.9 990.5 1180.4 992.2 1185.6 992.8 1191.4 992.5 1200.7 990.9" stroke="#77AC30"/><path d="M759.9 271.4 797.6 276.1 829.9 280.7 864.4 286.5 893.3 292.2 920.3 298.5 942.3 304.4 965.5 311.9 984.2 318.9 1001.4 326.6 1017.2 334.9 1031.6 343.9 1046.7 355.1 1058.6 365.7 1070.9 378.7 1080.7 391 1090.8 406.1 1098.9 420.2 1107.2 437.2 1113.8 453 1120.6 471.9 1126.7 491.7 1133 514.9 1138.5 538.9 1143.4 563.6 1153 622.4 1161.9 694.3 1169.3 769.8 1181.8 916.5 1186.3 958.4 1189.2 976 1192.2 986.5 1193.8 989.3 1195.6 990.8 1197.6 991.3 1200.7 990.9" stroke="#4DBEEE"/><path d="M870.1 908.6 904.6 920.6 941.8 934.3 1060.8 981.3 1082.7 988.9 1100.6 994.1 1111.8 996.6 1122.6 998.2 1132.8 999 1143.2 999.1 1165.2 997 1200.7 990.9" stroke="#A2142F"/><path d="M870.1 744.2 905.7 763.6 940.3 785.4 973 809.1 1002.8 834 1026.4 856.1 1048.6 879.2 1072.5 906.5 1118.6 962.9 1130.3 975.3 1140.6 984.3 1146.7 988.3 1152.7 991.3 1158.7 993.3 1165.1 994.5 1171.5 994.8 1179 994.4 1200.7 990.9" stroke="#0072BD"/><path d="M870.1 579.9 893.7 592.1 916.1 605 937.1 618.7 959.3 635 977.2 649.7 995.9 667 1012.8 684.5 1029.8 704.4 1046.4 726.4 1060.8 748.2 1075.5 773.5 1089 799.5 1100.9 825.7 1112.2 852.9 1148 949 1154.3 963.5 1160.2 974.6 1164.1 980.6 1168.2 985.4 1172.3 989 1176.7 991.3 1181.1 992.6 1186.1 992.9 1200.7 990.9" stroke="#D95319"/><path d="M870.1 415.6 905.4 429.7 938 445.4 967.4 462.4 993.8 480.8 1017 500.4 1028.6 511.7 1039.4 523.4 1049.3 535.3 1058.5 547.5 1067 559.9 1076.3 575.1 1091.1 603.5 1104.5 634.9 1117.2 671.5 1128 709.9 1136.2 744.2 1144.2 783.1 1152.2 827.6 1169.3 930.1 1174 953.8 1178.3 970.6 1182.7 982.5 1185 986.5 1187.4 989.3 1189.8 990.9 1192.6 991.7 1200.7 990.9" stroke="#EDB120"/><path d="M870.1 251.2 927.5 262.9 955.4 269.7 977.4 275.9 997.7 282.4 1016.2 289.2 1033 296.3 1048.2 303.9 1061.9 311.9 1074.2 320.3 1085.3 329.2 1096.7 340.3 1106.8 352.2 1115.7 364.8 1123.5 378.3 1130.5 392.5 1136.6 407.6 1142 423.5 1146.8 440.2 1151.7 460.1 1159.7 502.5 1166.7 553.3 1172.8 614.4 1178.3 688.7 1182.9 768.8 1190.2 918.8 1192.7 959.2 1194.3 976.2 1196 986.2 1197.8 990.5 1199 991.1 1200.7 990.9" stroke="#7E2F8E"/><path d="M980.4 888.4 1033.2 911.6 1080.7 934.9 1118.8 955.8 1165 984.2 1174.7 989.5 1180.6 991.7 1186 992.6 1191.7 992.4 1200.7 990.9" stroke="#77AC30"/><path d="M980.4 724 998.6 736.6 1015.6 749.1 1046 774 1059.3 786.3 1073.4 800.2 1086 813.6 1097.2 826.6 1109.7 842.4 1121.5 858.9 1132.2 875.4 1141.7 891.7 1157.3 922.7 1178.6 973.1 1184.4 984.5 1187.7 988.8 1191.1 991.1 1194.9 991.7 1200.7 990.9" stroke="#4DBEEE"/><path d="M980.4 559.7 1001.3 574.5 1023.7 592.4 1043.9 610.6 1062 629.1 1078 647.7 1093.8 669 1107.4 690 1120.3 713.3 1129.9 733.4 1138.9 755.3 1146.5 776.2 1153.9 800.2 1161.8 830.1 1169.4 864.6 1175.7 899.3 1185.5 959.6 1189 977.1 1191.4 985 1193.8 989.5 1196.5 991.2 1200.7 990.9" stroke="#A2142F"/><path d="M980.4 395.4 1011.4 413.3 1035.7 429.9 1048.4 439.7 1060.2 449.7 1071.1 459.9 1081.2 470.4 1099 491.7 1106.9 502.7 1115.7 516.5 1129.2 542 1141.3 570.8 1150.8 599.8 1158.4 628.9 1165.4 663.3 1171.2 699.5 1176.7 744.1 1181.4 793.7 1193.7 970 1195.1 981.2 1196.6 987.9 1198.2 990.7 1200.7 990.9" stroke="#0072BD"/><path d="M980.4 231 1022.9 244.4 1041.8 251.3 1059 258.3 1074.5 265.4 1088.4 272.8 1100.9 280.3 1111.9 288 1121.7 296 1130.3 304.3 1137.9 312.8 1145.7 323.5 1152.5 334.8 1158.2 346.5 1163.1 358.8 1167.3 371.7 1170.9 385.2 1174.4 401.6 1180 436.7 1184.4 480.3 1187.9 532.5 1190.7 595.6 1193 675.7 1198.3 964.8 1199.3 986.7 1199.9 990.3 1200.7 990.9" stroke="#D95319"/><path d="M649.5 989.5 654.3 995.3 659.7 1000.4 665.9 1005.1 673.1 1009.3 681.2 1013.2 690.8 1016.9 713 1023.2 741.2 1028.6 774.1 1032.6 810.4 1035.1 848.5 1036 882.5 1035.5 917.5 1033.8 953 1030.9 990.2 1026.7 1025.8 1021.7 1066.3 1015.1 1200.7 990.9" stroke="#EDB120"/><path d="M649.5 825.1 661.2 841.5 673.6 857.5 686.6 873 700.5 888.6 714.8 903.4 729.3 917.3 744.4 930.8 759.4 943.2 774 954.4 789 964.8 804.2 974.5 818.8 982.9 833.5 990.4 848.8 997.3 864.1 1003.3 880 1008.6 908.2 1015.6 937.4 1020 968.2 1021.8 1001.3 1021.1 1034.8 1018.3 1074.1 1013.1 1120.7 1005.4 1200.7 990.9" stroke="#7E2F8E"/><path d="M649.5 660.8 698.4 716 810.3 846.1 836.3 875.3 858 898.7 884.9 925.9 909.5 948.3 932.7 966.6 954.3 981 965.9 987.5 977.1 992.9 989.1 997.9 1000.6 1001.7 1012.7 1004.9 1024.7 1007.3 1037.2 1008.9 1050 1009.8 1076.1 1009.6 1106.3 1006.8 1142 1001.4 1200.7 990.9" stroke="#77AC30"/><path d="M649.5 496.5 671.4 511.9 693.9 529.2 716.9 548.2 740.1 568.6 761.8 589.1 784.2 611.5 805.7 634.4 827.3 658.8 845 679.9 863.6 703.3 899.2 751.4 930.9 797.5 990.2 887.6 1013.2 920.4 1024.5 935.3 1035.6 948.8 1045.9 960.1 1056 969.8 1070.1 981.2 1084.5 989.8 1098.8 995.6 1113.9 999.1 1129.4 1000.2 1147.3 999.4 1167.8 996.7 1200.7 990.9" stroke="#4DBEEE"/><path d="M649.5 332.1 709.1 346.6 736.3 354.1 762.2 362.1 786.3 370.3 807.9 378.5 828.3 387.2 847.3 396.2 866.5 406.3 883.8 416.6 901 428 916.3 439.3 931.2 451.6 945.8 465 959.9 479.4 973.5 494.8 985.1 509.4 997.6 526.8 1009.4 545.1 1020.6 564.2 1031.2 584.1 1041.1 604.5 1051.3 627.8 1060.8 651.4 1075.3 691.6 1089.2 735.5 1104.5 789.3 1137.5 914.7 1146.8 944.6 1155.1 965.8 1159.6 974.7 1164.1 981.5 1168.7 986.7 1173.6 990.3 1178.6 992.2 1184.2 993 1190.6 992.6 1200.7 990.9" stroke="#A2142F"/><path d="M759.7 969.3 784.2 980.9 808.4 991.1 832.1 999.7 854.9 1006.7 878.2 1012.5 900.9 1016.8 924.3 1019.9 948 1021.7 970.4 1022.2 993.3 1021.7 1017.3 1020.1 1043.2 1017.4 1100.8 1008.8 1200.7 990.9" stroke="#0072BD"/><path d="M759.7 804.9 801.7 841 884.5 915.9 918.3 944.5 939.3 960.4 958.7 973.6 977.5 984.4 995.5 993 1014.5 999.9 1034 1004.7 1054.1 1007.4 1075.5 1008.2 1097.5 1007.1 1122.6 1004.3 1152.2 999.6 1200.7 990.9" stroke="#D95319"/><path d="M759.7 640.6 787.2 662 814.1 685.5 841.5 712.2 867.7 740.3 892.4 769.1 917.7 800.8 941.9 832.8 990.9 899.6 1012.8 927.9 1025 942.5 1036.3 954.8 1047.2 965.6 1057.9 974.7 1071.9 984.7 1085.8 991.9 1099.9 996.9 1115 999.7 1130.3 1000.5 1147.8 999.4 1168.1 996.7 1200.7 990.9" stroke="#EDB120"/><path d="M759.7 476.3 786.6 490 813 505.7 839 523.5 862.3 541.8 884.8 561.8 906.2 583.4 926.5 606.6 947 632.8 962.1 654.3 977.5 678.2 991.8 702.5 1006 728.7 1021.1 758.4 1036.3 790.8 1081.1 893 1095.4 924.1 1103.5 940.1 1111.3 953.6 1118.5 964.8 1125.7 974.1 1133 981.7 1140.3 987.4 1147.7 991.5 1155.7 994.1 1163.9 995.2 1173.2 995.1 1183.9 993.8 1200.7 990.9" stroke="#7E2F8E"/><path d="M759.7 311.9 789.8 316.4 817.3 321.3 842.2 326.5 864.5 332 886.3 338.3 905.4 344.7 923.8 352 941.7 360.3 958.8 369.6 973.4 378.7 987.3 388.8 1000.6 399.9 1013.2 411.9 1025.2 425 1036.4 439.1 1048.3 456.1 1056.9 470.2 1065 485 1079.8 516.7 1093.7 553.1 1105.7 591.3 1112.7 617.4 1119.7 646.3 1132.9 710.9 1144.6 779.4 1165 912.2 1169.6 938.4 1173.6 957.7 1179.1 976.5 1181.9 982.9 1184.8 987.4 1187.7 990.2 1191 991.6 1194.8 991.8 1200.7 990.9" stroke="#77AC30"/><path d="M870 949.1 920.8 973.6 941.5 982.5 960.6 990 979 996.2 995.8 1001 1012.6 1004.7 1029.1 1007.3 1045.2 1008.9 1061.2 1009.4 1077.7 1009.1 1095.4 1007.8 1135 1002.5 1200.7 990.9" stroke="#4DBEEE"/><path d="M870 784.7 898.6 810.5 928.3 840 954.6 868 1007.1 926.2 1028.7 948.8 1050.1 968.4 1060.1 976.1 1069.7 982.7 1082.6 989.8 1095.3 994.9 1108.6 998.4 1122.3 1000 1136.3 1000.2 1152.4 998.9 1170.9 996.2 1200.7 990.9" stroke="#A2142F"/><path d="M870 620.4 883.8 631.7 898.9 645.2 911.6 657.4 925.3 671.7 950.7 701.2 963.8 718.1 976 735.1 996.8 766.9 1018.1 802.8 1037.2 837.7 1074.6 909.3 1088.2 933.8 1102.4 956.2 1115 972.3 1123.3 980.7 1131.8 987.2 1140.5 991.8 1149.5 994.6 1158.9 995.8 1169.3 995.7 1181.4 994.3 1200.7 990.9" stroke="#0072BD"/><path d="M870 456.1 893.8 469.7 914 483.2 932.9 497.8 952.6 515.2 969.1 531.9 986 551.6 1001.5 572.4 1015.8 594.1 1031.3 621 1045.1 648.6 1059.5 681.1 1072.9 715.7 1084.5 749.2 1095.9 785.1 1135.4 921.3 1143.7 945.7 1151 963.6 1156 973.2 1161 980.8 1166 986.3 1171.3 990.2 1176.8 992.4 1182.8 993.2 1189.8 992.7 1200.7 990.9" stroke="#D95319"/><path d="M870 291.7 895.3 296.3 916.6 300.9 936.8 306 953.6 311.1 971.7 317.4 986.5 323.6 1002.5 331.4 1015.6 339 1029.5 348.5 1040.9 357.6 1051.5 367.6 1061.5 378.3 1070.7 389.9 1080.5 404.1 1088.4 417.5 1096.8 433.8 1103.5 448.9 1109.8 464.7 1120.9 498.5 1131 537.4 1140 580.8 1149.2 636.4 1158.1 704.2 1165.8 775.7 1178.9 912.7 1184.2 957.1 1187.5 975.7 1191 986.5 1192.8 989.4 1194.8 990.9 1197.1 991.4 1200.7 990.9" stroke="#EDB120"/><path d="M980.2 928.9 1033.7 961.7 1059.6 976.6 1082.5 987.8 1102.4 994.9 1112.2 997.3 1121.8 998.7 1131.6 999.5 1141.9 999.4 1164.5 997.2 1200.7 990.9" stroke="#7E2F8E"/><path d="M980.2 764.5 995 780.6 1008.4 796.5 1021.8 813.7 1035.1 831.8 1060 869.3 1107.9 947.6 1119.8 964.5 1130.5 977.1 1137.5 983.5 1144.5 988.4 1151.6 991.9 1159.1 994.1 1166.7 995 1175.3 994.8 1200.7 990.9" stroke="#77AC30"/><path d="M980.2 600.2 992.5 613.1 1005.6 628.4 1016.1 641.8 1027.4 657.7 1037.7 673.6 1047.2 689.6 1057 707.8 1065.9 725.8 1080.5 758.6 1094.1 793.7 1108.9 836.4 1139.9 933.1 1148.5 955.6 1156.4 972.2 1160.8 979.2 1165.2 984.6 1169.6 988.6 1174.4 991.3 1179.2 992.7 1184.7 993.1 1200.7 990.9" stroke="#4DBEEE"/><path d="M980.2 435.9 997 448.6 1014.4 464.1 1030.1 480.6 1044.2 497.9 1056.8 516 1069.5 537.3 1080.7 559.4 1091.6 584.7 1102 613.1 1111 641.8 1120.2 675.6 1128.5 711.2 1135.5 745.3 1142.7 783.9 1166 924.1 1170.4 946.7 1174.3 963.3 1179.6 979.2 1182.3 984.6 1185.1 988.3 1188 990.6 1191.3 991.7 1194.9 991.8 1200.7 990.9" stroke="#A2142F"/><path d="M980.2 271.5 999.6 276.9 1014.9 281.9 1028.9 287.3 1041.8 293 1053.7 299.2 1064.6 305.8 1074.6 312.9 1083.8 320.6 1092.2 328.8 1101.1 339.1 1108.1 348.6 1115.5 360.4 1122.2 373.1 1128.3 386.6 1133.8 401 1138.8 416.3 1146.9 446.7 1154.2 482.3 1160.7 523.1 1166.6 571.5 1172 629.5 1177.2 700 1189 913.7 1191.8 956.9 1193.6 975 1195.5 985.9 1197.5 990.5 1198.8 991.1 1200.7 990.9" stroke="#0072BD"/><path d="M1090.5 908.7 1106.8 922.7 1121.6 936.5 1136.9 951.7 1162 978.2 1171.8 987 1178 990.7 1184 992.5 1190.5 992.5 1200.7 990.9" stroke="#D95319"/><path d="M1090.5 744.3 1103.4 764.8 1115.5 786.5 1127.3 811.1 1137.5 835.6 1145.6 857.7 1153.4 881.6 1175.4 960.5 1182.2 980.2 1185.8 986.8 1189.7 990.5 1194 991.7 1200.7 990.9" stroke="#EDB120"/><path d="M1090.5 580 1099.1 593.7 1106.9 607.4 1114 621.2 1121.5 637.8 1134.1 670.6 1145.3 707.9 1155.4 750.7 1164.5 800.7 1171.9 852 1183.5 945.9 1187.5 971.1 1190.1 982.2 1192.9 988.6 1194.3 990.3 1196 991.1 1200.7 990.9" stroke="#7E2F8E"/><path d="M1090.5 415.7 1102.2 429.9 1114 447.1 1124.1 464.9 1132.8 483.3 1140.1 502.3 1147.3 524.5 1154 550.1 1159.4 576.1 1164.5 605.2 1168.9 637.1 1172.9 671.3 1176.5 709.9 1181.8 782.1 1190.2 927.8 1193.2 968.6 1194.7 980.6 1196.3 987.8 1198 990.7 1200.7 990.9" stroke="#77AC30"/><path d="M1090.5 251.3 1109.5 261.6 1124.9 272.7 1132.2 279.1 1138.6 285.9 1144.3 293 1149.3 300.4 1153.8 308.2 1158.6 318 1165.7 337.6 1171.8 361.2 1176.8 389.7 1180.7 420.9 1184 457.4 1186.7 499.4 1189.2 552.4 1193.1 688.9 1198 958.7 1199.1 985.7 1199.7 990.1 1200.7 990.9" stroke="#4DBEEE"/></g>
<line x1="98.8" y1="990.4" x2="98.8" y2="168.7" class="a"/>
<line x1="98.8" y1="990.4" x2="649.4" y2="1091.9" class="a"/>
<line x1="649.4" y1="1091.9" x2="1200.7" y2="990.9" class="a"/>
<line x1="98.8" y1="990.4" x2="81.1" y2="987.1" class="a"/>
<line x1="98.8" y1="990.4" x2="85" y2="992.9" class="a"/>
<line x1="649.4" y1="1091.9" x2="663.2" y2="1094.4" class="a"/>
<line x1="98.8" y1="908.2" x2="81.1" y2="905" class="a"/>
<line x1="153.9" y1="1000.5" x2="140.1" y2="1003.1" class="a"/>
<line x1="704.5" y1="1081.8" x2="718.3" y2="1084.3" class="a"/>
<line x1="98.8" y1="826.1" x2="81.1" y2="822.8" class="a"/>
<line x1="208.9" y1="1010.7" x2="195.1" y2="1013.2" class="a"/>
<line x1="759.7" y1="1071.7" x2="773.4" y2="1074.2" class="a"/>
<line x1="98.8" y1="743.9" x2="81.1" y2="740.6" class="a"/>
<line x1="264" y1="1020.9" x2="250.2" y2="1023.4" class="a"/>
<line x1="814.8" y1="1061.6" x2="828.6" y2="1064.1" class="a"/>
<line x1="98.8" y1="661.7" x2="81.1" y2="658.5" class="a"/>
<line x1="319" y1="1031" x2="305.3" y2="1033.5" class="a"/>
<line x1="869.9" y1="1051.5" x2="883.7" y2="1054" class="a"/>
<line x1="98.8" y1="579.5" x2="81.1" y2="576.3" class="a"/>
<line x1="374.1" y1="1041.2" x2="360.3" y2="1043.7" class="a"/>
<line x1="925" y1="1041.4" x2="938.8" y2="1043.9" class="a"/>
<line x1="98.8" y1="497.4" x2="81.1" y2="494.1" class="a"/>
<line x1="429.2" y1="1051.3" x2="415.4" y2="1053.8" class="a"/>
<line x1="980.2" y1="1031.3" x2="993.9" y2="1033.8" class="a"/>
<line x1="98.8" y1="415.2" x2="81.1" y2="411.9" class="a"/>
<line x1="484.2" y1="1061.5" x2="470.4" y2="1064" class="a"/>
<line x1="1035.3" y1="1021.2" x2="1049.1" y2="1023.7" class="a"/>
<line x1="98.8" y1="333" x2="81.1" y2="329.8" class="a"/>
<line x1="539.3" y1="1071.6" x2="525.5" y2="1074.1" class="a"/>
<line x1="1090.4" y1="1011.1" x2="1104.2" y2="1013.6" class="a"/>
<line x1="98.8" y1="250.9" x2="81.1" y2="247.6" class="a"/>
<line x1="594.3" y1="1081.8" x2="580.6" y2="1084.3" class="a"/>
<line x1="1145.6" y1="1001" x2="1159.3" y2="1003.5" class="a"/>
<line x1="98.8" y1="168.7" x2="81.1" y2="165.4" class="a"/>
<line x1="649.4" y1="1091.9" x2="635.6" y2="1094.4" class="a"/>
<line x1="1200.7" y1="990.9" x2="1214.5" y2="993.4" class="a"/>
<text class="t" transform="translate(66.8 1002.4) scale(0.85 1)" text-anchor="end">0</text>
<text class="t" transform="translate(66.6 1038.9) scale(0.85 1)" text-anchor="end">0</text>
<text class="t" transform="translate(680.1 1140.6) scale(0.85 1)" text-anchor="start">0</text>
<text class="t" transform="translate(66.8 920.2) scale(0.85 1)" text-anchor="end">0.1</text>
<text class="t" transform="translate(121.7 1049.0) scale(0.85 1)" text-anchor="end">0.1</text>
<text class="t" transform="translate(735.2 1130.5) scale(0.85 1)" text-anchor="start">0.1</text>
<text class="t" transform="translate(66.8 838.1) scale(0.85 1)" text-anchor="end">0.2</text>
<text class="t" transform="translate(176.7 1059.2) scale(0.85 1)" text-anchor="end">0.2</text>
<text class="t" transform="translate(790.4 1120.4) scale(0.85 1)" text-anchor="start">0.2</text>
<text class="t" transform="translate(66.8 755.9) scale(0.85 1)" text-anchor="end">0.3</text>
<text class="t" transform="translate(231.8 1069.3) scale(0.85 1)" text-anchor="end">0.3</text>
<text class="t" transform="translate(845.5 1110.3) scale(0.85 1)" text-anchor="start">0.3</text>
<text class="t" transform="translate(66.8 673.7) scale(0.85 1)" text-anchor="end">0.4</text>
<text class="t" transform="translate(286.8 1079.5) scale(0.85 1)" text-anchor="end">0.4</text>
<text class="t" transform="translate(900.6 1100.2) scale(0.85 1)" text-anchor="start">0.4</text>
<text class="t" transform="translate(66.8 591.5) scale(0.85 1)" text-anchor="end">0.5</text>
<text class="t" transform="translate(341.9 1089.7) scale(0.85 1)" text-anchor="end">0.5</text>
<text class="t" transform="translate(955.8 1090.1) scale(0.85 1)" text-anchor="start">0.5</text>
<text class="t" transform="translate(66.8 509.4) scale(0.85 1)" text-anchor="end">0.6</text>
<text class="t" transform="translate(397.0 1099.8) scale(0.85 1)" text-anchor="end">0.6</text>
<text class="t" transform="translate(1010.9 1080.0) scale(0.85 1)" text-anchor="start">0.6</text>
<text class="t" transform="translate(66.8 427.2) scale(0.85 1)" text-anchor="end">0.7</text>
<text class="t" transform="translate(452.0 1110.0) scale(0.85 1)" text-anchor="end">0.7</text>
<text class="t" transform="translate(1066.0 1069.9) scale(0.85 1)" text-anchor="start">0.7</text>
<text class="t" transform="translate(66.8 345.0) scale(0.85 1)" text-anchor="end">0.8</text>
<text class="t" transform="translate(507.1 1120.1) scale(0.85 1)" text-anchor="end">0.8</text>
<text class="t" transform="translate(1121.1 1059.8) scale(0.85 1)" text-anchor="start">0.8</text>
<text class="t" transform="translate(66.8 262.9) scale(0.85 1)" text-anchor="end">0.9</text>
<text class="t" transform="translate(562.1 1130.2) scale(0.85 1)" text-anchor="end">0.9</text>
<text class="t" transform="translate(1176.3 1049.7) scale(0.85 1)" text-anchor="start">0.9</text>
<text class="t" transform="translate(66.8 180.7) scale(0.85 1)" text-anchor="end">1</text>
<text class="t" transform="translate(617.2 1140.4) scale(0.85 1)" text-anchor="end">1</text>
<text class="t" transform="translate(1231.4 1039.6) scale(0.85 1)" text-anchor="start">1</text>
<line x1="1347.9" y1="992.1" x2="1347.9" y2="184" class="g"/>
<line x1="1347.9" y1="992.1" x2="1898.3" y2="893" class="g"/>
<line x1="1898.3" y1="893" x2="1898.3" y2="84.9" class="g"/>
<line x1="1898.3" y1="893" x2="2446.7" y2="992.3" class="g"/>
<line x1="1347.9" y1="992.1" x2="1898.3" y2="893" class="g"/>
<line x1="1347.9" y1="992.1" x2="1896.3" y2="1091.4" class="g"/>
<line x1="1402.9" y1="982.2" x2="1402.9" y2="174.1" class="g"/>
<line x1="1347.9" y1="911.3" x2="1898.3" y2="812.2" class="g"/>
<line x1="1953.1" y1="902.9" x2="1953.1" y2="94.8" class="g"/>
<line x1="1898.3" y1="812.2" x2="2446.7" y2="911.5" class="g"/>
<line x1="1402.7" y1="1002" x2="1953.1" y2="902.9" class="g"/>
<line x1="1402.9" y1="982.2" x2="1951.3" y2="1081.5" class="g"/>
<line x1="1458" y1="972.3" x2="1458" y2="164.2" class="g"/>
<line x1="1347.9" y1="830.5" x2="1898.3" y2="731.4" class="g"/>
<line x1="2008" y1="912.9" x2="2008" y2="104.8" class="g"/>
<line x1="1898.3" y1="731.4" x2="2446.7" y2="830.7" class="g"/>
<line x1="1457.6" y1="1012" x2="2008" y2="912.9" class="g"/>
<line x1="1458" y1="972.3" x2="2006.4" y2="1071.6" class="g"/>
<line x1="1513" y1="962.4" x2="1513" y2="154.3" class="g"/>
<line x1="1347.9" y1="749.7" x2="1898.3" y2="650.6" class="g"/>
<line x1="2062.8" y1="922.8" x2="2062.8" y2="114.7" class="g"/>
<line x1="1898.3" y1="650.6" x2="2446.7" y2="749.9" class="g"/>
<line x1="1512.4" y1="1021.9" x2="2062.8" y2="922.8" class="g"/>
<line x1="1513" y1="962.4" x2="2061.4" y2="1061.7" class="g"/>
<line x1="1568.1" y1="952.5" x2="1568.1" y2="144.4" class="g"/>
<line x1="1347.9" y1="668.9" x2="1898.3" y2="569.8" class="g"/>
<line x1="2117.7" y1="932.7" x2="2117.7" y2="124.6" class="g"/>
<line x1="1898.3" y1="569.8" x2="2446.7" y2="669.1" class="g"/>
<line x1="1567.3" y1="1031.8" x2="2117.7" y2="932.7" class="g"/>
<line x1="1568.1" y1="952.5" x2="2116.5" y2="1051.8" class="g"/>
<line x1="1623.1" y1="942.6" x2="1623.1" y2="134.5" class="g"/>
<line x1="1347.9" y1="588" x2="1898.3" y2="488.9" class="g"/>
<line x1="2172.5" y1="942.6" x2="2172.5" y2="134.5" class="g"/>
<line x1="1898.3" y1="488.9" x2="2446.7" y2="588.2" class="g"/>
<line x1="1622.1" y1="1041.8" x2="2172.5" y2="942.6" class="g"/>
<line x1="1623.1" y1="942.6" x2="2171.5" y2="1041.9" class="g"/>
<line x1="1678.1" y1="932.6" x2="1678.1" y2="124.5" class="g"/>
<line x1="1347.9" y1="507.2" x2="1898.3" y2="408.1" class="g"/>
<line x1="2227.3" y1="952.6" x2="2227.3" y2="144.5" class="g"/>
<line x1="1898.3" y1="408.1" x2="2446.7" y2="507.4" class="g"/>
<line x1="1676.9" y1="1051.7" x2="2227.3" y2="952.6" class="g"/>
<line x1="1678.1" y1="932.6" x2="2226.5" y2="1031.9" class="g"/>
<line x1="1733.2" y1="922.7" x2="1733.2" y2="114.6" class="g"/>
<line x1="1347.9" y1="426.4" x2="1898.3" y2="327.3" class="g"/>
<line x1="2282.2" y1="962.5" x2="2282.2" y2="154.4" class="g"/>
<line x1="1898.3" y1="327.3" x2="2446.7" y2="426.6" class="g"/>
<line x1="1731.8" y1="1061.6" x2="2282.2" y2="962.5" class="g"/>
<line x1="1733.2" y1="922.7" x2="2281.6" y2="1022" class="g"/>
<line x1="1788.2" y1="912.8" x2="1788.2" y2="104.7" class="g"/>
<line x1="1347.9" y1="345.6" x2="1898.3" y2="246.5" class="g"/>
<line x1="2337" y1="972.4" x2="2337" y2="164.3" class="g"/>
<line x1="1898.3" y1="246.5" x2="2446.7" y2="345.8" class="g"/>
<line x1="1786.6" y1="1071.5" x2="2337" y2="972.4" class="g"/>
<line x1="1788.2" y1="912.8" x2="2336.6" y2="1012.1" class="g"/>
<line x1="1843.3" y1="902.9" x2="1843.3" y2="94.8" class="g"/>
<line x1="1347.9" y1="264.8" x2="1898.3" y2="165.7" class="g"/>
<line x1="2391.9" y1="982.4" x2="2391.9" y2="174.3" class="g"/>
<line x1="1898.3" y1="165.7" x2="2446.7" y2="265" class="g"/>
<line x1="1841.5" y1="1081.5" x2="2391.9" y2="982.4" class="g"/>
<line x1="1843.3" y1="902.9" x2="2391.7" y2="1002.2" class="g"/>
<line x1="1898.3" y1="893" x2="1898.3" y2="84.9" class="g"/>
<line x1="1347.9" y1="184" x2="1898.3" y2="84.9" class="g"/>
<line x1="2446.7" y1="992.3" x2="2446.7" y2="184.2" class="g"/>
<line x1="1898.3" y1="84.9" x2="2446.7" y2="184.2" class="g"/>
<line x1="1896.3" y1="1091.4" x2="2446.7" y2="992.3" class="g"/>
<line x1="1898.3" y1="893" x2="2446.7" y2="992.3" class="g"/>
<g class="tr"><path d="M1457.8 911.3 1446.5 898.8 1436.1 884.2 1426.7 867.1 1418.3 847.5 1411.7 827.9 1404.9 802.9 1398.9 774.8 1393.7 743.9 1388.6 705.8 1384.2 664.9 1380.1 617 1376.7 567.9 1371.5 471.9 1363 267.2 1359.9 212.1 1358.2 195.9 1356.2 187.5 1355.1 185.6 1353.8 184.6 1348.3 184.0" stroke="#0072BD"/><path d="M1457.8 749.7 1446.8 714 1437.1 675 1427.8 628.7 1419.2 575.9 1413.2 531.4 1407 479 1400.5 414.3 1386.9 267.4 1383.1 234.5 1379.7 212 1375.5 196 1373.3 191.2 1370.6 187.8 1367.9 186 1364.5 185 1349 184.1" stroke="#D95319"/><path d="M1457.8 588.1 1448.2 539.4 1438.8 483 1429.1 415.2 1409.8 265.4 1404.7 233.7 1400.1 212.6 1397.1 203 1394 196.2 1390.6 191.4 1386.6 188.1 1382.5 186.4 1377.3 185.5 1349.9 184.2" stroke="#EDB120"/><path d="M1457.8 426.5 1431.5 255.7 1424.9 223.1 1421.7 211.8 1418.5 203.1 1415.2 197 1411.8 192.7 1407.8 189.6 1402.9 187.6 1392.1 186 1351.2 184.3" stroke="#7E2F8E"/><path d="M1457.8 264.8 1452 233.5 1446.8 212.3 1444.2 204.7 1441.6 199 1438.8 194.7 1435.6 191.5 1429.8 188.6 1421.8 187.2 1353.4 184.4" stroke="#77AC30"/><path d="M1567.9 891.5 1555.9 886.7 1546 882.1 1536.5 876.8 1527.1 870.7 1518 863.9 1509.2 856.3 1500.7 847.9 1492.5 838.5 1484.7 828.2 1477.2 816.9 1464.6 794 1453.2 767.6 1443 737.9 1433.9 704.9 1425 664.9 1416.6 617.7 1409.5 568.4 1404 523.3 1398.9 474.8 1393 409.5 1381.1 266.7 1377.7 233.2 1374.6 211.2 1371 195.2 1369 190.2 1366.8 187 1364.5 185.2 1361.6 184.3 1349 184.0" stroke="#4DBEEE"/><path d="M1567.9 729.9 1557.4 714.2 1547.4 697.1 1537.9 678.6 1528.8 658.6 1520.3 637.4 1511.1 611.8 1503.7 588.3 1495.8 560.7 1484.5 514.7 1473.3 462 1461.4 396.2 1438.2 254.5 1432 224.3 1426 204.6 1422.7 197.5 1419 192.3 1414.9 188.8 1409.9 186.6 1399.4 185.3 1353.9 184.4" stroke="#A2142F"/><path d="M1567.9 568.2 1554.4 530.4 1542.8 491.1 1531.5 446.2 1521.4 397.9 1510.9 338.7 1501.8 274.8 1495.9 220.4 1495.1 204.3 1495.5 194.8" stroke="#0072BD"/><path d="M1491.6 192 L1494.5 190.2 L1443.5 189.2" stroke="#0072BD" stroke-dasharray="0 3 13 9 13 9 13 9" stroke-linecap="butt"/><path d="M1567.9 406.6 1558.7 362.3 1552.5 319.8 1550.7 300.7 1549.7 282.4 1549.7 266.7 1550.6 252.3 1552.2 241.2 1554.6 231.9 1557.7 224.3 1561.8 217.7 1566.7 212.5 1572.9 208.2 1580 204.9 1588.7 202.4 1600 200.5 1614 199.3 1653.1 198.9 1907.2 207 1995.8 208.9 2077.3 209.8 2183.4 209.6 2326.2 207.3 2360.8 207.2 2380.9 208 2396.5 209.8 2408.5 212.8 2417.6 217.1 2423.6 222.1 2428.3 228.4 2432.1 236.3 2435.2 246.9 2437.7 259.8 2439.8 277 2442.5 322.6 2444.2 393.7 2445.3 503 2446.6 979.4" stroke="#D95319"/><path d="M1567.9 245 1568.4 231.7 1570.8 221.1 1575 212.9 1578 209.5 1581.5 206.5 1590.6 201.7 1602.1 198.5 1617 196.6 1636.4 195.7 1687.6 196.6 1881.7 204.8 2012 208.9 2116.7 211.1 2289.5 212.5 2337.5 213.7 2364.3 215.7 2384.9 219 2393.3 221.2 2400.5 224 2406.8 227.3 2412.2 231.1 2418.6 237.8 2423.9 245.9 2428.1 255.7 2431.8 268.5 2434.7 283.8 2437.2 303.6 2440.7 354 2442.9 425.6 2444.4 534 2446.6 991.6" stroke="#EDB120"/><path d="M1677.9 871.7 1663 870.2 1647.8 867.7 1632.6 864 1619.2 859.8 1605.9 854.5 1594.6 849.1 1581.5 841.5 1570.6 834 1559.8 825.4 1549.3 815.7 1539.1 804.8 1530.9 794.8 1521.3 781.6 1513.6 769.6 1504.8 754 1497.8 740 1491.1 725.1 1483.4 706 1470.6 668 1458.3 622.6 1446.9 570.4 1438.7 525.2 1430.4 472.6 1421.7 408.4 1403.7 263.3 1398.8 231.4 1394.2 209.8 1391.5 201 1388.7 194.6 1385.6 190 1382 186.9 1378.4 185.4 1373.7 184.6 1350.9 184.1" stroke="#7E2F8E"/><path d="M1677.9 710 1667.6 701.6 1657.6 691.9 1647.8 680.9 1638.4 668.5 1630.5 656.6 1621.8 641.9 1613.5 625.9 1605.6 608.8 1598.2 590.7 1591.2 571.7 1584.8 552 1578.1 529.2 1566.6 482.7 1556.6 431.8 1548.3 375.7 1545.3 348.7 1543.2 322.7 1542 300.1 1541.7 279.5 1542.3 262.3 1543.9 247.4 1546.1 236.2 1549 227.3 1552.8 219.8 1557.7 213.7 1563.7 208.9 1570.8 205.5 1579.4 203 1590.5 201.2 1612 199.9 1643.8 200 1869.9 206.7 2023.8 209 2109.9 209 2193.9 207.9 2257.8 206.1 2384.3 201.2 2398.2 201.4 2409 202.3 2416.8 203.8 2423.5 206.3 2427.9 209.1 2431.8 213.1 2434.9 218.2 2437.3 224.5 2439.2 232.3 2440.7 241.6 2443 269 2444.4 310 2445.4 374.2 2446.3 623.8" stroke="#77AC30"/><path d="M1677.9 548.4 1669.6 532.2 1662.3 513.1 1656.7 492.8 1652.9 472 1650.9 451.1 1650.8 428.9 1652.7 407.7 1656.4 389.1 1661.4 373.3 1668 358.8 1676.3 345.8 1685.4 335.1 1697.1 325 1709.6 316.9 1723.8 310.1 1739.9 304.5 1761.5 299.3 1786.3 295.7 1814.5 293.6 1846.2 293 1881.8 294 1921.1 296.6 1960.7 300.4 2002.8 305.9 2039.5 311.7 2076.9 318.8 2110.7 326.4 2144 335.3 2172.7 344.3 2200.2 354.6 2226.1 366.1 2247.3 377.4 2261.5 386.1 2272.3 393.6 2292.4 409.6 2310.4 427.1 2326.4 446.3 2340.5 467 2354.3 492.1 2366.1 518.8 2376.1 546.9 2384.7 576.1 2391.9 605.9 2398.7 639.4 2404.9 676 2411.3 721 2417.2 771.7 2431.8 926.2 2435.5 960.6 2437.9 976 2440.2 986 2442.6 991.2 2443.9 992.2 2445.5 992.5" stroke="#4DBEEE"/><path d="M1677.9 386.8 1676.6 375 1677 364.5 1679.3 353.4 1683 343.9 1688.4 335.1 1695.6 327 1704.5 319.8 1714.1 314 1726.5 308.6 1739.4 304.4 1754 301.1 1770.4 298.5 1788.5 296.8 1808.6 295.8 1830.6 295.7 1854.6 296.4 1886.7 298.4 1918.4 301.4 1952.3 305.6 1984.5 310.3 2018 316.1 2048.6 322.3 2079.4 329.3 2110.3 337.4 2136.8 345.3 2159.1 352.8 2184.2 362.5 2204.9 371.6 2224.5 381.4 2243.1 392.1 2260.6 403.5 2274.2 413.7 2291.9 429 2307.9 445.5 2322.3 463.2 2336.9 484.7 2348.2 504.7 2359.5 528.6 2369.3 553.6 2378.8 582.6 2386.8 612.3 2393.6 642.1 2400.6 678.4 2406.8 716.8 2416.2 789.7 2430.9 931 2435.8 969.2 2438 980.9 2440.4 988.2 2442.8 991.8 2444.3 992.4 2446 992.4" stroke="#A2142F"/><path d="M1677.9 225.2 1683.5 221.5 1691.1 218.7 1701.2 216.6 1714.2 215.2 1747.4 214.5 1795.6 216.5 1875.4 222.6 1973.3 232.3 2063.1 242.7 2137 253 2178.7 260 2217.8 267.9 2249.9 275.9 2278.9 285 2304.4 295.3 2324.3 305.6 2341.6 317.3 2356.6 330.4 2367.9 343.1 2379 359.2 2387.4 374.6 2395.6 393.8 2402.5 414.8 2409 440.2 2414.4 467.6 2418.9 496.7 2422.6 527.1 2425.9 562.1 2431.6 644.2 2436.5 754.1 2443.1 960.5 2444.6 986.1 2445.5 991.1 2446.5 992.3" stroke="#0072BD"/><path d="M1788 851.8 1772.9 856.3 1758.1 859.4 1744.8 860.8 1730.7 860.9 1717.2 859.6 1703.1 856.7 1689.7 852.7 1675.8 847 1661.4 839.7 1648.3 831.4 1635 821.5 1623.1 811.2 1611.2 799.4 1599.4 786 1587.8 771 1576.4 754.2 1565.4 735.7 1556 718.1 1547 699.2 1537.2 676 1529.1 654.5 1520.3 628.6 1512.1 601.6 1504.5 573.8 1492.6 524.2 1481.8 471.5 1469.6 402.8 1446.5 258.3 1440.5 228.5 1434.8 208.7 1431.4 201 1427.8 195.7 1423.5 191.8 1418.2 189.3 1413 188 1405.9 187.2 1363 185.1" stroke="#D95319"/><path d="M1788 690.2 1781.6 690.6 1777.2 689.7 1774.1 687.5 1772.7 684.1 1773 679.2 1775 672.8 1778.7 665.5 1783.6 658.3 1789 651.9 1794.8 646.1 1801 641 1807.9 636.3 1814.9 632.4 1822.5 628.9 1838.2 624.2 1852.2 622.1 1866.5 621.6 1882.3 622.6 1898.2 625 1915.4 628.9 1933.8 634.5 1953.4 641.9 1972.4 650.2 1992.3 660.1 2011 670.4 2030.3 682 2049.9 694.8 2069.8 708.7 2089.7 723.6 2109.6 739.4 2129.2 755.9 2159.7 783.2 2190.2 812.6 2227.7 851.2 2309.9 939.6 2331.6 960.6 2349.8 975.5 2360.6 982.8 2370.9 988.4 2381 992.5 2390.9 995.2 2401.2 996.6 2412 996.9 2424.1 995.9 2439 993.7" stroke="#EDB120"/><path d="M1788 528.6 1790 527.5 1796 526.5 1813.3 525.9 1831.6 526.9 1853.2 529.6 1873 533.1 1895.2 538.2 1917.2 544.2 1940.8 551.8 1963.3 560.1 1986.7 569.7 2008.1 579.4 2030 590.2 2052.1 602.2 2071.5 613.6 2093.6 627.5 2112.7 640.5 2131.4 654.2 2149.7 668.6 2167.5 683.4 2184.6 698.6 2200.9 714.2 2218.6 732.2 2235.2 750.3 2250.7 768.3 2275 799 2300 833.9 2324.9 872.2 2371.2 947.9 2382.9 964.8 2393.2 977.3 2399.1 983 2404.7 987.3 2410.5 990.7 2416.3 993 2422.2 994.2 2428.6 994.6 2445.1 992.6" stroke="#7E2F8E"/><path d="M1788 367 1809.1 368.1 1838.8 372.1 1874.2 378.9 1909.7 387.1 1947.4 397.3 1981.8 407.9 2014.6 419.1 2048.4 432.1 2078.9 445.1 2105.5 457.6 2131.7 471.3 2157.2 486 2181.7 501.7 2204.9 518.5 2223.8 533.6 2244.3 552.1 2258 565.7 2273.4 582.6 2287.5 599.9 2300.5 617.5 2312.4 635.4 2323.2 653.4 2334.5 674.5 2344.6 695.4 2354.7 719 2363.5 742 2372 766.8 2380.8 795.6 2394.8 848.2 2417.1 944.7 2424.5 970.8 2429.3 982.5 2434.2 989.6 2436.7 991.6 2439.3 992.6 2442.3 992.9 2446.1 992.4" stroke="#77AC30"/><path d="M1788 205.4 1920.4 228.9 1976.1 239.7 2029.6 250.7 2076.5 261.2 2114.4 270.5 2151.6 280.6 2183 290 2212.8 300.2 2240.6 311 2266.1 322.7 2286 333.4 2304.1 344.8 2320.3 357 2334.9 369.9 2349.8 386.1 2360.9 400.8 2370.7 416.5 2379.2 432.9 2387.8 453.2 2395.2 474.5 2402.3 500 2408.1 526.6 2413.1 554 2420.6 610.3 2427 680.1 2433 775 2441.7 962.7 2443.9 986.8 2445 991.4 2445.7 992.2 2446.6 992.3" stroke="#4DBEEE"/><path d="M1898.1 832 1905.1 838.9 1913.4 845.6 1924.8 853.6 1937.2 861.2 1971.1 879.4 2013.6 899.5 2070.3 924 2127.8 946.9 2180.3 965.9 2226 980.5 2257.8 989.2 2288.2 995.9 2315.7 1000.5 2340.9 1002.8 2363.3 1003.2 2385.3 1001.9 2409.4 998.7 2445 992.6" stroke="#A2142F"/><path d="M1898.1 670.4 1907 679.8 1918.5 689.9 1931.2 699.5 1948.3 711 1993.8 738.4 2133.2 817.1 2199.7 857.1 2235 879.7 2269.6 902.9 2302.9 926.4 2361.1 968.6 2383.1 983 2398.7 990.9 2405.7 993.2 2412.7 994.7 2419.6 995.3 2426.8 995.2 2446 992.4" stroke="#0072BD"/><path d="M1898.1 508.8 1908.2 518.1 1919.3 527 1948.4 546.9 1981 566.9 2087.4 629.6 2118.7 649.1 2149.8 669.4 2180 690.3 2205.1 708.8 2228.7 727.5 2250.6 746 2278.6 771.9 2302.8 796.7 2325.2 822.4 2345.1 848.1 2362.1 872.9 2377.2 897.5 2391.7 924 2414.9 969.9 2419.8 978.3 2424.1 984.5 2428.9 989.5 2433.8 992.3 2439.1 993.2 2446.3 992.4" stroke="#D95319"/><path d="M1898.1 347.2 1918 360.2 1943.3 374.4 2053.4 430 2102.8 456 2139.6 477 2171.5 496.6 2210.8 523.3 2231.3 538.8 2246.9 551.4 2261.7 564.3 2279 580.6 2291.9 593.8 2306.8 610.4 2317.8 623.7 2330.3 640.4 2341.6 657 2351.7 673.5 2360.8 689.8 2370.4 709 2378.7 727.7 2387 748.9 2394 769.2 2400.7 791.2 2406.9 814.3 2412.4 837.8 2420.9 881.3 2433.3 959 2437.2 979.2 2439.2 986.1 2441.3 990.4 2443.5 992.3 2446.5 992.3" stroke="#EDB120"/><path d="M1898.1 185.6 1939.9 200 2068.1 239.7 2130.1 260.1 2187.6 281.1 2212.7 291.4 2236.7 302 2259.3 313.1 2280.3 324.6 2299.6 336.4 2317.2 348.7 2332.9 361.5 2347 374.7 2359.4 388.3 2372.3 405.4 2381.6 420.1 2391.2 438.5 2399.3 457.5 2406.1 477.2 2411.7 497.5 2417.2 521.7 2421.7 546.6 2425.8 575.4 2431.6 633.3 2436.3 706.6 2440 800.5 2444.4 969.4 2445.4 988 2445.9 991.5 2446.6 992.3" stroke="#7E2F8E"/><path d="M1567.5 931.2 1544.6 916.4 1532.6 907.3 1522.9 898.9 1513.5 889.9 1504.5 880.2 1489.1 860.6 1475 838.3 1462.1 812.9 1450.5 784.4 1440.1 752.6 1430.9 717.9 1422 676 1413.7 627 1406.7 576.2 1401.4 529.9 1396 476 1379.1 267.8 1376 236 1373.1 213.2 1369.7 197.3 1367.8 192.3 1365.7 188.8 1363.5 186.8 1360.8 185.6 1349.1 184.1" stroke="#77AC30"/><path d="M1567.5 769.5 1556.4 750.9 1545.8 730.9 1535.8 709.7 1526.2 687.2 1517.2 663.6 1508.7 639 1500.8 613.6 1492.4 583.9 1480.4 534.7 1469.3 482.5 1457 416.1 1432.2 267.9 1425.6 236.2 1419.2 214.4 1415.5 205.5 1411.6 199.2 1407.1 194.4 1401.8 191.1 1396.2 189.2 1388.8 187.9 1352.3 184.5" stroke="#4DBEEE"/><path d="M1567.5 607.9 1557 577.6 1547.4 546.6 1537.7 512.3 1529.1 478.4 1520.2 439.8 1511.4 398.3 1482.8 250.5 1476.6 225.1 1470.8 208.9 1467.1 202.6 1463 198 1458.1 195 1451.6 192.9 1433.7 190.6 1366.9 185.7" stroke="#A2142F"/><path d="M1567.5 446.3 1556.5 394.2 1547.2 341.5 1540.1 291.6 1536.4 252.1 1536.2 229.3 1537.1 221.3 1538.7 215 1540.9 210.3 1544.1 206.5 1548.4 203.8 1553.8 202 1567.7 200.3 1590.7 200 1779.3 205.5 1887.8 207.8 2001 208.8 2105.9 208.2 2197.2 206 2279 202.3 2342.2 197.8 2422.5 189.7 2434.8 189.1 2438.6 189.6 2441.3 190.7 2443.1 192.7 2444.4 196 2445.7 207.6 2446.3 233.7" stroke="#0072BD"/><path d="M1567.5 284.7 1567.2 263.9 1568.6 247.9 1571.7 235.5 1574 230.4 1576.6 226 1579.8 222.4 1583.4 219.3 1587.8 216.6 1592.8 214.3 1605.3 210.9 1622.5 208.6 1648.2 207.4 1685 207.1 1926.8 211 2079.3 211.3 2205.9 209.1 2354 203.4 2382.4 202.8 2398.6 203.4 2410.1 204.8 2418.8 207.3 2425.9 211.3 2430.2 215.6 2433.9 221.7 2436.7 229.3 2438.9 238.8 2440.7 251.5 2442.1 267.2 2444 311.1 2445.1 380.9 2445.8 490.6 2446.6 981.7" stroke="#D95319"/><path d="M1677.5 911.3 1662.6 906.3 1648.9 900.8 1635 894.3 1622.6 887.6 1610.1 880 1597.6 871.3 1585.2 861.5 1574.7 852.1 1564.4 841.8 1554.2 830.4 1544.3 818 1536.2 806.7 1526.9 792.2 1519.3 779.2 1510.6 762.5 1503.6 747.6 1489.3 712.1 1482.2 691.1 1475.4 669.1 1463.2 622.7 1451.8 569.8 1443.5 524.5 1435.8 476.1 1426.9 412.2 1408.4 267.4 1403.3 235.3 1398.5 213.3 1395.7 204.2 1392.7 197.3 1389.3 192.3 1385.4 189 1381.4 187.2 1376.2 186 1351.5 184.3" stroke="#EDB120"/><path d="M1677.5 749.7 1661.5 724.1 1646.7 695.8 1632.4 663.7 1619.8 630.5 1607.4 592.3 1596.5 552.1 1586.5 508.6 1578.3 465.6 1571 417.8 1565.9 372.7 1563 330.7 1562.8 295.7 1563.6 281.3 1565.1 268.9 1567 258.2 1569.5 249 1572.9 240.7 1576.8 233.8 1581.3 228 1587 223 1592.9 219.2 1600.2 216 1608.4 213.4 1618.3 211.3 1642.4 208.6 1676.1 207.5 1728 207.7 1926.3 211.6 2047.4 213 2153.1 212.8 2336.7 210.8 2366.7 211.8 2387.8 214.1 2400.7 217.2 2410.8 221.7 2418.7 227.7 2424.9 235.5 2429.6 245.4 2433.6 258.8 2436.6 275.3 2439 297.2 2440.8 323.7 2442.2 357.7 2444.2 456.2 2445.4 613.7 2446.2 882.6" stroke="#7E2F8E"/><path d="M1677.5 588.1 1674.5 564.4 1672.6 540.3 1671.9 517.9 1672.3 495.9 1673.9 474.7 1676.6 455.9 1680.3 438.1 1685.3 421.4 1691 407.3 1697.9 394.2 1706 382.4 1714.6 372.7 1725.3 363.1 1736.4 355.4 1748.8 348.8 1762.6 343.1 1781.3 337.6 1800.6 333.8 1824.1 331 1848.1 329.6 1877 329.6 1906.2 331 1937.8 333.7 1968.5 337.4 2000.9 342.4 2034.6 348.9 2065.7 356 2097.1 364.5 2124.8 373.3 2152.1 383.2 2175.2 393.1 2197.6 404 2224.7 419.6 2247.1 435.1 2260.3 445.5 2270.3 454.3 2288.9 473 2305.7 493.1 2322.5 517.5 2337.2 543.3 2351.3 573.5 2361 598.4 2370.5 627.1 2379.5 659.1 2387.1 690.8 2395.9 733.7 2404.2 782 2411.6 831.6 2424.6 927.3 2430.2 961.8 2433.7 977.1 2437.1 986.8 2438.9 989.7 2440.7 991.6 2442.8 992.5 2445.2 992.5" stroke="#77AC30"/><path d="M1677.5 426.5 1682.4 413.1 1687.6 401.7 1693.7 391.2 1700.6 381.4 1708.5 372.4 1717.4 364.3 1727.3 357 1738.3 350.6 1750.5 345 1762.3 340.7 1776.9 336.6 1791 333.7 1808.3 331.2 1825 329.7 1845.2 328.8 1864.6 328.7 1890.7 329.6 1916 331.4 1946 334.5 1974.5 338.4 2004.4 343.4 2031.8 348.9 2059.8 355.3 2084.5 361.8 2109.1 369.1 2130.1 376.2 2154.1 385.3 2174.1 393.9 2193.5 403.4 2212.2 413.6 2230 424.6 2244 434.5 2265.1 451.5 2282.1 467.6 2297.6 484.8 2313.6 505.8 2326.2 525.2 2339 548.5 2350.2 572.7 2361.3 600.9 2370.8 629.5 2379 658.3 2387.4 693.2 2395 730 2406.4 797.2 2425 930.3 2431.5 968.2 2434.7 980.7 2437.9 988.4 2439.6 990.6 2441.4 992 2443.4 992.6 2445.9 992.4" stroke="#4DBEEE"/><path d="M1677.5 264.9 1688.2 260.6 1701.4 256.6 1714.6 253.6 1730.7 250.9 1746.7 249.1 1766.3 247.6 1811.8 246.5 1872.5 247.8 1944.8 251.6 2019.6 257.4 2091 264.9 2142.5 271.8 2184.4 278.8 2220.1 286.5 2252.9 295.6 2279.5 305.1 2303.2 316.2 2315.1 323.1 2323.9 329 2332.3 335.3 2342 343.7 2354.2 356.5 2366.4 372.7 2375.7 388.3 2384.9 407.7 2392.8 428.9 2400.3 454.5 2406.6 482.1 2411.9 511.2 2416.4 541.6 2420.1 572.9 2426.9 650.5 2433 755.8 2441.8 960.2 2443.9 986.1 2445 991.2 2445.6 992.1 2446.5 992.3" stroke="#A2142F"/><path d="M1787.6 891.5 1776.9 892.8 1765.3 892.5 1752 890.4 1737.2 886.5 1722 881.1 1706.9 874.3 1692.2 866.5 1676.9 856.9 1663.9 847.6 1650.7 836.9 1637.3 824.6 1625.3 812.3 1613.4 798.6 1603.1 785.4 1591.4 768.8 1581.5 753 1570.4 733.5 1561.1 715 1552 695.4 1543.4 674.6 1535.2 652.8 1526.3 626.8 1518 599.8 1510.3 572 1498.3 522.7 1487.3 470.7 1474.9 403 1451.1 260.6 1444.9 230.8 1438.9 210.9 1435.4 203.1 1431.5 197.4 1426.9 193.2 1421.5 190.6 1415.8 189.1 1407.9 188.1 1364.4 185.3" stroke="#0072BD"/><path d="M1787.6 729.9 1791.3 719.9 1797 708.3 1802.9 698.8 1809.5 690.2 1816.8 682.9 1824.5 677.1 1832.8 672.4 1841.5 668.9 1851.4 666.4 1861.7 665 1873 664.8 1884.4 665.7 1896.9 667.7 1910.4 670.9 1924.9 675.5 1939.1 680.9 1954.2 687.5 1968.6 694.5 2000.8 712.7 2035.3 735.2 2071.3 761.5 2104.3 787.9 2140.2 818.7 2173 848.1 2241.9 911.6 2270.1 936.5 2296.9 958.3 2320.7 974.8 2335.1 983.2 2348.8 989.5 2362.1 994.1 2375.1 997 2388.4 998.4 2402.6 998.4 2418.2 996.9 2437.8 993.9" stroke="#D95319"/><path d="M1787.6 568.3 1799 563.5 1812.6 559.7 1827.2 557.3 1842.1 556.2 1858.6 556.3 1875 557.6 1892.6 560.1 1911.4 564 1931.5 569.3 1950.4 575.4 1970.2 582.7 1990.7 591.3 2011.8 601.3 2031 611.3 2052.9 623.7 2072.4 635.8 2092 648.9 2111.3 662.9 2130.4 677.7 2149 693.1 2167.1 709.2 2184.5 725.6 2201.2 742.3 2218.9 761.3 2246 792.6 2271.3 824.7 2299.1 863 2355 944.4 2369.4 963 2381.8 976.4 2388.9 982.6 2395.9 987.5 2402.8 991.1 2410 993.6 2417.2 994.9 2424.9 995.1 2433.5 994.4 2444.9 992.6" stroke="#EDB120"/><path d="M1787.6 406.7 1809.2 403.8 1832.6 402.9 1859.3 403.9 1889.1 407 1919.2 411.9 1951.6 418.8 1982.7 426.9 2015.2 437 2045.2 447.8 2075.5 460.3 2102.4 472.8 2128.9 486.8 2154.7 502.1 2176.4 516.6 2200.1 534.4 2219.7 551 2235.6 565.9 2250.5 581.4 2264.5 597.4 2277.6 613.8 2289.7 630.6 2302.7 650.4 2312.9 667.6 2323.7 687.7 2334.7 710.5 2345.7 735.7 2355.3 760.2 2365.3 788.6 2381.7 841.6 2408.8 940.7 2413.9 956.9 2418.4 969.4 2424.6 982.3 2427.6 986.5 2430.8 989.8 2433.9 991.8 2437.3 992.9 2441.1 993.1 2446 992.4" stroke="#7E2F8E"/><path d="M1787.6 245.1 1827.5 247 1872.3 250.7 1924.1 256.3 1978.1 263.4 2031.6 271.6 2078.3 279.9 2120.7 288.7 2157.8 297.6 2189.4 306.5 2219.2 316.4 2243.5 325.9 2265.9 336.4 2286.4 347.9 2304.9 360.5 2321.5 374.2 2336.2 389.1 2347.4 402.9 2359 420 2369.2 438.5 2378.1 458 2385.7 478.7 2393.3 503.6 2399.7 529.6 2405.8 559.9 2410.4 587.4 2414.3 615.2 2421.2 677.2 2428.6 771.8 2440 961.4 2442.9 986.7 2444.5 991.4 2445.4 992.3 2446.5 992.3" stroke="#77AC30"/><path d="M1897.7 871.7 1923.2 892.2 1958.4 917.2 1996 941.7 2028 960.3 2055.2 973.8 2082.9 985.3 2111.4 994.7 2140.3 1002.2 2173.2 1008.4 2208 1012.6 2243.2 1014.7 2278.4 1014.7 2311.4 1012.8 2345.6 1009.1 2382.8 1003.5 2440.1 993.5" stroke="#4DBEEE"/><path d="M1897.7 710.1 1993.7 763.5 2026.4 782.9 2057.5 802.2 2090.4 823.7 2124.4 847 2227.4 920.6 2259.2 942.8 2290.4 963 2316.5 977.8 2332.7 985.4 2348.2 991.4 2362.6 995.5 2377.1 998 2391.2 998.9 2406 998.3 2422.5 996.4 2445.1 992.6" stroke="#A2142F"/><path d="M1897.7 548.5 1941.4 567.2 1976.3 583.2 2011 600.4 2044.1 618.3 2077.7 638.2 2107.9 657.8 2137.4 678.6 2165.6 700.4 2194.8 725.1 2223.9 752.3 2250.1 779.4 2276.7 809.8 2296.3 834.4 2315.7 860.8 2336.1 890.4 2377.5 953.8 2388.1 968.3 2396.9 978.5 2402.5 983.8 2408 988 2413.4 991 2418.8 993 2424.3 994.1 2430.3 994.4 2446 992.4" stroke="#0072BD"/><path d="M1897.7 386.9 1929.4 396.6 1962.1 407.4 1990.5 417.6 2020.4 429.1 2047.4 440.3 2074.9 452.6 2098.5 464.1 2121.9 476.3 2144.8 489.4 2163.4 500.8 2185 515.3 2202.3 527.8 2222 543.5 2237.5 557.1 2252.1 571 2268.5 588.1 2281.2 602.7 2293 617.5 2304 632.4 2314.1 647.5 2323.4 662.6 2333.5 680.7 2342.7 698.7 2352.2 719.4 2360.6 739.6 2369 761.9 2377.1 785.9 2384.7 810.9 2397.5 858.8 2418.2 946.6 2425.3 971.7 2430 983 2434.7 989.8 2437.1 991.6 2439.6 992.6 2446.4 992.4" stroke="#D95319"/><path d="M1897.7 225.2 2003.8 246.8 2087.8 266.3 2125.8 276.2 2158.4 285.6 2189.7 295.7 2215.2 304.8 2239.2 314.6 2261.5 324.9 2281.9 335.9 2300.5 347.6 2317.3 360.1 2332.3 373.3 2345.5 387.3 2357.3 402.2 2367.6 417.9 2376.6 434.4 2384.4 451.8 2391.3 469.9 2398.1 492 2404 514.9 2409.6 542 2414.3 569.7 2421.1 622.6 2427.1 688.5 2433 781.9 2441.6 962.9 2443.8 987 2445 991.4 2445.7 992.2 2446.6 992.3" stroke="#EDB120"/><path d="M2007.8 851.9 2067.5 876.3 2149.2 907.7 2292.7 960.6 2362 984.8 2388.5 992.5 2407.4 995.7 2415.5 996.1 2423.9 995.7 2446.3 992.4" stroke="#7E2F8E"/><path d="M2007.8 690.3 2118.2 753.3 2163.4 779.8 2209.8 808.4 2251.2 835.9 2276.3 853.7 2298.5 870.4 2319.6 887.4 2340.7 905.5 2371 934.6 2386.2 950.7 2410.4 977.8 2420.2 987.1 2426.1 991.1 2431.9 993.1 2438.1 993.5 2446.4 992.3" stroke="#77AC30"/><path d="M2007.8 528.7 2073.4 567.2 2111.6 590.3 2150.3 615 2183.9 638 2216 661.5 2245.7 685.4 2272.5 709.3 2299.2 735.6 2319.6 758.4 2339.2 782.9 2355.4 806 2371.5 832.1 2387 861.6 2401.1 893.2 2411 919.7 2427.2 969.2 2432.4 982.7 2435.5 988.1 2438.6 991.4 2442 992.7 2446.5 992.3" stroke="#4DBEEE"/><path d="M2007.8 367 2076.6 400.5 2128.9 427.8 2176.7 455.4 2199.9 470.1 2217.8 482.3 2239.1 497.9 2255.4 510.7 2270.7 523.8 2285.1 537 2298.6 550.5 2314.1 567.5 2325.4 581.2 2338.3 598.5 2347.6 612.4 2358.1 629.7 2367.4 646.9 2375.6 663.9 2382.9 680.8 2390.5 700.7 2397 720 2403.4 741.9 2413.8 785.5 2422.4 833.5 2428.7 880 2437.4 959.1 2440.2 979.3 2443 990.2 2444.5 992.2 2446.6 992.3" stroke="#A2142F"/><path d="M2007.8 205.4 2104.8 234 2173.9 256.6 2204.9 267.9 2229.7 277.7 2253.1 287.8 2275 298.3 2295.1 309.1 2313.4 320.3 2330 331.9 2344.7 344 2357.7 356.4 2369.2 369.4 2379.2 382.8 2389.5 399.6 2396.8 414.2 2404.2 432.3 2409.5 448 2414.9 467.5 2419.4 487.6 2423.7 511.7 2427.2 536.5 2430.4 565.3 2434.9 623.5 2438.5 697.7 2441.4 793.6 2444.9 968.8 2445.7 987.9 2446.1 991.5 2446.7 992.3" stroke="#0072BD"/><path d="M1677.1 951 1659.7 943.4 1642.1 934.8 1626.6 926.5 1611.2 917.4 1596 907.3 1583.2 897.9 1570.6 887.6 1558.3 876.4 1546.4 864.3 1536.8 853.4 1525.7 839.3 1516.8 826.6 1506.6 810.4 1498.5 795.9 1490.8 780.5 1483.5 764.3 1476.5 747.2 1468.7 725.6 1455.8 683.1 1443.6 633.2 1433.4 581.1 1425.4 532.8 1418.1 481.4 1409.9 414.1 1393.6 268.9 1389.2 236.9 1385 214.2 1382.7 205.4 1380.2 198.5 1377.5 193.4 1374.5 190 1371.3 187.9 1367.3 186.6 1350.1 184.3" stroke="#D95319"/><path d="M1677.1 789.4 1659.8 769.8 1644.3 750.1 1629.1 728.4 1614.4 704.7 1600.4 679.2 1587 651.9 1574.4 623.1 1562.7 593.1 1554 568.4 1544.9 540.2 1535.6 508.9 1527.2 477.9 1518.3 442 1509.2 402.7 1478.3 258 1470.8 230.1 1467.1 219.8 1463.6 211.8 1459.3 204.9 1454.6 199.8 1449 196.1 1442.1 193.6 1434.3 192 1423 190.6 1365.5 185.7" stroke="#EDB120"/><path d="M1677.1 627.8 1663.7 600.3 1651.2 571.3 1639.9 541.3 1629.1 508.6 1619.2 473.8 1610.5 438 1603.4 402.4 1598.3 370 1595 341.3 1593.5 315.2 1593.9 293.3 1596 275.4 1599.8 260.9 1602.5 254.5 1605.7 248.9 1609.3 243.9 1613.5 239.5 1618.1 235.7 1623.9 232 1633.7 227.7 1645.1 224.2 1658.4 221.5 1675.1 219.4 1694.7 217.9 1717.9 217 1783.9 216.4 2016.3 219 2229.9 220.2 2289.5 221.2 2322.9 222.7 2350.2 225.4 2372 229.6 2380.5 232.2 2388 235.1 2398.7 241.2 2403.3 244.8 2408.2 249.6 2415.2 259 2421.4 271.5 2426.3 286.5 2430.6 306 2433.9 329.2 2436.4 356 2438.6 389.5 2440.3 430.4 2442.8 539.1 2444.5 688 2446.2 978.2" stroke="#7E2F8E"/><path d="M1677.1 466.2 1672.5 445.9 1668.9 426.2 1666.4 405.9 1665.4 388.1 1665.6 371.5 1667.1 356.2 1669.9 342.1 1674 329.4 1679.1 318.8 1685.5 309.4 1693.3 301 1702.5 293.6 1713.4 287.2 1726 281.7 1740.5 277 1755.6 273.5 1782.9 269.3 1813.4 266.7 1851.6 265.3 1893.4 265.3 1944.3 266.8 1997.9 269.6 2051.9 273.8 2100.3 278.7 2137.5 283.6 2173.7 289.5 2204.9 295.9 2231 302.6 2255.4 310.4 2275.1 318.2 2295.7 328.3 2312.1 338.3 2328.8 351.3 2343.6 365.8 2356.6 382 2362.5 390.8 2369.2 402.4 2378.8 422.3 2388.1 446.6 2396 472.9 2403.2 504.2 2408.7 533.8 2413.8 568 2418.4 606.3 2422.5 648.3 2426.5 699.3 2430.2 756.3 2440.6 959 2443.1 985 2444.4 990.6 2445.9 992.4" stroke="#77AC30"/><path d="M1677.1 304.5 1680.2 295.9 1684.6 288 1690.4 281 1697.2 275.3 1706.2 269.8 1716.1 265.4 1727.8 261.6 1741.3 258.3 1756.9 255.6 1774.8 253.3 1818.7 250.3 1874.7 248.9 1944.3 249.4 2033.8 251.9 2116.2 256.2 2182.6 261.7 2210.5 265 2233.6 268.4 2255.4 272.4 2272.8 276.4 2291.7 281.7 2306.7 286.9 2322.5 293.8 2334.9 300.5 2346.1 308 2356.3 316.3 2368.3 328.8 2378.7 342.9 2387.7 358.7 2396.3 378.6 2403.6 400.8 2409.7 425.1 2414.8 451.4 2419.5 482.8 2423.4 516.1 2426.6 550.8 2432 632.9 2436.7 744.5 2443.2 959.9 2444.7 985.5 2445.4 990.8 2446.4 992.3" stroke="#4DBEEE"/><path d="M1787.2 931.2 1768.7 926.4 1750.7 920.8 1732.7 914.1 1714.9 906.6 1697.8 898.3 1681.7 889.4 1666.7 880.2 1651.5 869.7 1637.9 859.2 1624.3 847.3 1610.7 834.1 1598.9 821.4 1587.3 807.4 1576 792.1 1564.9 775.6 1555.7 760.3 1545.4 741.2 1535.5 720.8 1527.4 702.2 1518.4 679.4 1509.9 655.5 1502 630.6 1487.7 578.8 1477.1 533.2 1466.6 480.8 1454.9 414.3 1431.5 267.6 1425.2 235.7 1419.1 213.6 1415.5 204.7 1411.7 198.4 1407.5 193.8 1402.5 190.6 1397.3 188.8 1390.2 187.5 1356.2 184.8" stroke="#A2142F"/><path d="M1787.2 769.6 1778.6 752.6 1771 735.4 1764 717.1 1758.2 699 1753.3 680.5 1749.5 662.1 1746.7 644.1 1744.9 625.6 1744.3 608.1 1744.8 591.8 1746.4 575.6 1749 561 1752.8 547 1757.5 534.6 1763.3 523 1770.4 512.2 1778.1 503.1 1786.2 495.7 1795.4 489.1 1805.7 483.3 1817.3 478.5 1828.8 475.1 1841.4 472.5 1855.1 470.8 1869.9 470.1 1886 470.4 1903.3 471.8 1919.6 474.1 1936.9 477.2 1955.1 481.4 1974.1 486.6 1993.9 492.9 2027.5 505.6 2059.5 520.2 2092 537.5 2121.7 555.8 2150.7 576.4 2178.6 599 2202.6 621.3 2227.2 647.2 2249.7 674.2 2270 701.9 2289.7 732.2 2308.2 764.5 2322.9 793 2336.7 822 2352.4 858 2384.8 936.1 2394 955.8 2401.7 969.8 2410.6 982.2 2415 986.6 2419.4 989.9 2423.8 992.1 2428.6 993.4 2433.7 993.9 2439.6 993.5" stroke="#0072BD"/><path d="M1787.2 608 1794.1 597.2 1802.7 587.5 1812.2 579.5 1823.5 572.9 1835.5 568.1 1849.2 564.7 1864.7 563 1880.5 563 1898 564.6 1917.1 568 1936 572.7 1956.2 579.2 1977.6 587.4 1998 596.5 2019.2 607.1 2040.9 619.3 2060.9 631.6 2081.1 645.1 2101.2 659.7 2121.2 675.3 2140.9 691.8 2160.1 709.1 2178.6 727 2198.2 747.2 2227.4 779.9 2254.9 813.8 2285.2 854.5 2346.2 941.3 2361.8 961 2375.6 975.6 2383.2 982.1 2390.9 987.3 2398.4 991.2 2406.3 993.8 2414 995.1 2422.5 995.4 2431.8 994.7 2444 992.8" stroke="#D95319"/><path d="M1787.2 446.4 1795.7 442.3 1804.8 438.8 1823.6 433.6 1845 430.4 1867.1 429.2 1893.6 430 1920.6 432.9 1949.9 437.9 1978.7 444.6 2009 453.3 2037.5 463.2 2066.8 475.1 2093.3 487.4 2119.7 501.5 2145.6 517.2 2170.7 534.6 2192.1 551.4 2207.5 564.8 2222.2 578.8 2236.3 593.4 2251.7 611 2264.1 626.6 2277.7 645.2 2290.1 664.1 2301.6 683.3 2313.6 705.1 2325.7 729.5 2337.5 756 2348.7 783.9 2368.2 838.7 2399.6 937.1 2406.1 955 2411.7 968.2 2419.3 981.9 2423 986.5 2426.9 989.9 2430.8 992.1 2435 993.2 2439.7 993.3 2445.7 992.5" stroke="#EDB120"/><path d="M1787.2 284.7 1820.4 282.1 1856.4 281.3 1900.2 282.2 1946.5 284.8 1997.3 289.2 2044.1 294.8 2092.3 302.1 2133.1 309.9 2165.6 317.5 2196.8 326.5 2223 335.7 2247.5 346.1 2270.1 357.9 2290.7 371.2 2307 384.1 2323.7 400.4 2335 413.7 2346.8 430.4 2357.4 448.4 2366.7 467.5 2374.9 487.8 2383.2 512.2 2390.3 537.7 2397.1 567.4 2403 597.8 2407.9 628.6 2412.9 665.9 2417.4 705.6 2424.3 781.2 2435 927 2438.7 968 2440.4 980.3 2442.1 988 2444 991.7 2445 992.4 2446.4 992.3" stroke="#7E2F8E"/><path d="M1897.3 911.4 1901.4 919 1903.8 925.8 1904.1 931.5 1902.6 936.4 1899.2 940.4 1893.9 943.5 1886.7 945.7 1877.4 947 1865.7 947.3 1852.5 946.7 1837.6 945 1821 942.2 1804 938.5 1787.1 934.2 1769.8 929 1752.4 923.1 1724.7 911.9 1699.5 899.7 1676.2 886.3 1654 871.3 1633.3 854.8 1614.3 837.1 1595.6 816.6 1579 795.3 1566.2 776.4 1553.9 755.8 1542.1 733.4 1532.3 712.3 1521.7 686.8 1511.8 659.7 1502.6 631.3 1494.1 601.9 1480.9 549 1468.2 488.7 1455.6 418.1 1431.4 268 1425.3 237 1419.5 215.6 1416.3 207.3 1412.8 200.6 1409.2 195.8 1404.9 192.2 1400.3 189.9 1394.4 188.3 1374 186.2" stroke="#77AC30"/><path d="M1897.3 749.8 1918.2 758.7 1939.5 769.1 1962 781.5 1984.6 795.1 2008.1 810.4 2034 828.1 2134.4 901.1 2176.9 930.6 2200.3 945.5 2222.3 958.6 2242.9 969.7 2262.8 979.2 2284.6 987.9 2306 994.8 2326.6 999.3 2346.7 1001.9 2366.6 1002.5 2387.6 1001.3 2411.1 998.4 2443.6 992.9" stroke="#4DBEEE"/><path d="M1897.3 588.2 1921.5 594.6 1945.5 602.5 1970.8 612.6 1997.3 624.8 2022.4 637.8 2048 652.7 2073.8 669.3 2099.5 687.4 2129.4 710.5 2158.1 735 2187.4 762.3 2214.5 789.8 2239.1 816.8 2265.5 847.9 2345.1 948 2358.8 963.4 2371.1 975.3 2379.7 982.2 2387.9 987.5 2396.1 991.5 2404.4 994.1 2412.9 995.4 2421.9 995.6 2432 994.7 2445.5 992.5" stroke="#A2142F"/><path d="M1897.3 426.5 1921.2 430.6 1946.5 436.1 1970.1 442.2 1994.6 449.4 2019.8 458 2042.2 466.5 2064.9 476.1 2087.6 486.7 2110.1 498.3 2129.1 509.1 2150.8 522.7 2168.9 535.1 2186.4 548.2 2203.2 562 2219.2 576.4 2234.4 591.4 2257.9 617.4 2278.9 644.5 2299.2 674.9 2318.3 708.3 2329.4 730.3 2339.2 751.7 2349 775.1 2358.5 799.8 2375.1 848.4 2403.5 939.8 2409.2 956.3 2414.4 969 2421.5 982.2 2425 986.8 2428.6 990 2432.2 992.1 2436.1 993.1 2440.4 993.2 2446.2 992.4" stroke="#0072BD"/><path d="M1897.3 264.9 1939.4 269.3 1980.9 274.5 2024.6 281 2065.4 287.9 2102.4 295.2 2138.8 303.5 2170.1 311.8 2196.4 319.9 2221.3 328.9 2244.6 338.8 2266.2 349.7 2283.3 359.9 2301.4 372.8 2315.6 384.8 2328.4 397.7 2341.8 413.9 2352 428.7 2362.7 447.2 2370.7 463.9 2379 484.5 2386.2 506 2392.6 528.4 2398.8 554.9 2404.1 582 2409.2 613 2413.5 644 2421.4 717.3 2427.2 788.7 2436.3 928 2439.6 967.9 2441.1 980.2 2442.7 988 2444.3 991.7 2446.5 992.3" stroke="#D95319"/><path d="M2007.4 891.6 2045 910.6 2083.9 929.4 2118 945 2150.6 958.9 2179.8 970.3 2208.4 980.4 2234.7 988.4 2259.6 994.8 2282.7 999.5 2304.5 1002.7 2325.9 1004.5 2346.7 1005 2366.2 1004.2 2387.3 1002 2410.8 998.6 2445.3 992.6" stroke="#EDB120"/><path d="M2007.4 729.9 2044.9 752 2080.3 774 2115.1 796.9 2150.7 821.7 2181.7 844.5 2214.1 869.4 2320.5 955.2 2339.2 969 2355.5 979.6 2366.5 985.8 2377.2 990.6 2387.2 993.9 2397.3 995.9 2407.3 996.7 2418 996.5 2429.7 995.2 2445.9 992.4" stroke="#7E2F8E"/><path d="M2007.4 568.3 2039.3 584.9 2068.6 601.4 2097.9 619.3 2123.6 636.2 2151.6 656.3 2175.4 674.9 2197.9 693.9 2221.6 715.8 2245.7 740.2 2267.2 764.3 2288.2 790.1 2307.8 816.8 2323.3 839.7 2338.7 864.3 2354.9 892.5 2388.6 953.4 2397.2 967.4 2404.6 977.7 2409.4 983 2413.9 987.1 2418.4 990.2 2423.2 992.4 2427.9 993.6 2432.9 994 2446.2 992.4" stroke="#77AC30"/><path d="M2007.4 406.7 2058.2 426.8 2102.1 446.7 2125.8 458.7 2145.2 469.3 2164.1 480.5 2182.4 492.2 2200.1 504.4 2217 517.2 2229.9 527.7 2245.2 541.2 2259.7 555.2 2273.3 569.5 2285.9 584.1 2297.6 599 2316.5 626.3 2332.8 653.9 2348.1 684.6 2363.1 720.7 2370.5 741.1 2377.8 763.6 2390.9 810.2 2402.3 858.5 2420.2 944.1 2426.9 970.4 2431.2 982.2 2435.6 989.4 2437.8 991.4 2440.2 992.5 2442.9 992.8 2446.4 992.3" stroke="#4DBEEE"/><path d="M2007.4 245.1 2091 263.1 2123.9 271.1 2156.1 279.7 2187.2 289 2212.5 297.4 2236.3 306.3 2258.5 315.9 2278.9 326 2294.6 335 2311.7 346.4 2324.6 356.5 2336.4 367.2 2349 380.7 2360.2 395.1 2370 410.4 2378.6 426.5 2386.1 443.5 2392.7 461.3 2398.4 479.9 2404.1 502.4 2409.1 525.7 2413.3 549.6 2417.3 577.6 2423.3 630.6 2428.1 689.4 2433.5 780 2441.7 962 2443.9 986.8 2445.1 991.4 2445.7 992.2 2446.6 992.3" stroke="#A2142F"/><path d="M2117.5 871.8 2269.6 933.1 2402.5 989.2 2414.2 992.9 2423.9 994.5 2433.4 994.3 2446.5 992.3" stroke="#0072BD"/><path d="M2117.5 710.1 2173.4 744.4 2222 776.6 2265 807.7 2300.9 836.8 2319.6 853.3 2337.6 870.6 2354.2 887.9 2369.1 904.7 2380.9 919.3 2391.8 934 2402.8 950 2420.5 977.6 2427.6 986.9 2431.8 990.5 2436 992.6 2440.4 993.1 2446.5 992.3" stroke="#D95319"/><path d="M2117.5 548.5 2153.1 571.1 2188 594.8 2217.1 616.3 2244.3 638.2 2269.3 660.3 2294.8 685.6 2314.4 707.4 2333.8 731.8 2350.3 755.3 2364.1 777.8 2376.9 801.6 2388.3 826.1 2400.4 856.6 2410.7 887.7 2418.1 914.1 2430.9 966.5 2435.2 981.5 2437.6 987.4 2440.2 991 2442.9 992.5 2446.6 992.3" stroke="#EDB120"/><path d="M2117.5 386.9 2161.5 410 2204.3 435.2 2239.7 459 2256.2 471.5 2271.9 484.1 2286.5 497.1 2300.2 510.3 2312.9 523.7 2324.6 537.3 2335.4 551 2345.2 564.8 2354.2 578.8 2364.3 596.3 2371.5 610.3 2379.5 627.8 2391.6 659 2403 696.2 2412.2 734.9 2419.8 776.6 2426.6 826.2 2431.6 872.7 2441.1 977.7 2443.5 989.9 2444.8 992 2446.6 992.3" stroke="#7E2F8E"/><path d="M2117.5 225.3 2181.3 244.8 2212.1 255.2 2236.5 264.2 2259.5 273.5 2280.9 283.1 2300.5 293 2314.9 301.2 2328.1 309.5 2343 320.3 2356.2 331.5 2367.9 343.2 2378 355.3 2386.9 368 2394.6 381.2 2402.4 397.7 2407.9 412.1 2412.7 427.1 2417.6 445.7 2421.6 465 2425 485.1 2428.3 509.2 2433.4 562.7 2436.9 621.1 2439.7 692.1 2442.1 789.1 2445.1 966.7 2445.8 987.5 2446.7 992.3" stroke="#77AC30"/><path d="M1786.8 970.9 1761.4 962.8 1737.4 954.2 1713.9 944.8 1693.4 935.7 1674.4 926.4 1655.2 915.8 1638.1 905.3 1620.9 893.6 1606.1 882.2 1591.6 869.8 1577.3 856.1 1565.4 843.3 1552.1 827.1 1541 812.1 1530.4 795.9 1520.3 778.6 1510.7 760.2 1501.6 740.6 1493 719.9 1483.6 694.5 1476.2 671.7 1468.2 644 1455 590.5 1444.7 540.2 1435.4 486.6 1425.1 417.5 1404.9 268.9 1399.5 236.9 1394.4 214.5 1391.5 205.6 1388.5 199.1 1385.3 194.2 1381.6 190.7 1377.7 188.6 1372.7 187.2 1351.5 184.5" stroke="#4DBEEE"/><path d="M1786.8 809.3 1774.6 800.9 1761.9 791.2 1748.7 780 1736.5 768.5 1724.1 755.7 1712.9 743.1 1691.8 716.1 1680.8 700.2 1671.2 685.2 1652.6 652.5 1635.2 616.7 1619.3 578.4 1610.1 553.7 1601.7 528.5 1593.2 500.8 1585.6 473.4 1571.3 414.2 1564.6 381.9 1559 350.9 1554.2 320.6 1550.7 293.9 1548.4 270.2 1547.5 251.3 1547.9 237.1 1549.6 225.8 1552.6 217.6 1556.9 211.8 1563.4 207.6 1572.7 204.8 1585.5 203.1 1603.2 202.4 1646.8 202.8 1882.1 208.3 1967.2 209.3 2044.9 209.3 2146.6 208 2240.4 205 2314.7 200.8 2417.3 193 2426.2 193.1 2432.2 194 2436.4 195.7 2439.5 198.7" stroke="#A2142F"/><path d="M1786.8 647.7 1777.4 634 1768.8 618.5 1761.1 601.6 1755.1 584.7 1750.3 567 1747.2 550 1745.5 533 1745.5 516.1 1747 500.9 1749.9 487.3 1754.3 474.4 1759.8 463.3 1766.8 453.1 1775.4 443.8 1785.7 435.6 1796.8 429.1 1809.5 423.6 1823.9 419.2 1840.2 416.1 1856.7 414.3 1874.8 413.6 1894.7 414.1 1916.3 415.8 1937.1 418.6 1959.3 422.5 1982.8 427.6 2007.3 434.1 2029.9 441 2053 449.2 2076.5 458.5 2097.1 467.8 2117.7 478 2143.8 492.7 2169.2 509.1 2193.5 527.2 2216.6 546.9 2235.8 565.6 2255.8 588 2274.1 611.6 2290.7 636 2307.2 663.7 2321.7 691.8 2335.5 722.4 2348.4 754.9 2358.5 783.2 2368 812.2 2379 848.9 2402.6 932.4 2409.2 953 2415 968.2 2421.5 981.1 2424.6 985.5 2427.9 989 2431.3 991.4 2434.8 992.7 2438.6 993.2 2443.2 992.9" stroke="#0072BD"/><path d="M1786.8 486 1786.8 477.9 1788 470.3 1790.5 463 1794.3 455.9 1799.2 449.7 1805.4 444 1812.4 439.3 1820.6 435.2 1830.2 431.6 1840.1 429 1851.2 427 1863.6 425.6 1877.3 425 1890.7 425.1 1920.6 427.4 1952.6 432.4 1988.2 440.5 2024.2 451.2 2059.4 464.2 2092.7 479 2123.4 495.2 2153.5 513.8 2179.9 532.8 2197.7 547.3 2214.7 562.7 2228.6 576.6 2244.1 593.6 2258.5 611.2 2272.1 629.4 2284.6 648.1 2297.8 669.8 2311.2 694.4 2323.3 718.9 2335.1 745.6 2346.4 774 2356.2 800.9 2366.1 830.3 2398.9 935.1 2405.4 953.6 2411.1 967.2 2418.7 981.2 2422.5 986 2426.3 989.6 2430.2 991.9 2434.5 993.1 2439.1 993.3 2445 992.6" stroke="#D95319"/><path d="M1786.8 324.4 1794 320.3 1803.4 316.6 1814.3 313.5 1827.5 310.8 1843.4 308.5 1860.4 307 1899.9 305.4 1946.7 305.9 1999.2 308.9 2048.5 313.7 2097.4 320.5 2133.7 327.4 2166.3 335.2 2197.8 344.7 2224.6 354.9 2249.7 366.9 2270.4 379.1 2282.4 387.6 2291.6 394.8 2308.6 410.5 2322.1 425.5 2334.3 441.9 2345.3 459.5 2355.2 478.3 2364 498.2 2372.9 522.2 2380.7 547.3 2388.3 576.5 2394.9 606.4 2400.5 636.6 2406.2 673.2 2411.4 712.1 2419.3 783.3 2432 925.3 2436.5 966.4 2438.7 979.6 2440.9 987.8 2443.2 991.7 2444.5 992.4 2446.2 992.4" stroke="#EDB120"/><path d="M1896.9 951.1 1878.5 950.8 1856.7 948.5 1832.1 944.2 1807.2 938.3 1782.8 931.2 1757.9 922.5 1734.8 913 1711.6 901.9 1690.5 890.2 1672 878.5 1654.9 866.2 1637.7 852 1622.2 837.6 1606.8 821.4 1593.4 805.4 1580.3 787.8 1567.7 768.5 1555.5 747.4 1543.8 724.7 1534.1 703.4 1524.9 680.9 1515.1 653.9 1505.9 625.7 1497.4 596.5 1484.2 544.1 1472.3 488.3 1458.9 415.2 1434.2 266.2 1427.8 235.2 1421.6 213.7 1418.1 205.4 1414.3 199 1410.2 194.5 1405.3 191.3 1400 189.3 1393 188 1363.1 185.4" stroke="#7E2F8E"/><path d="M1896.9 789.5 1906.8 794.4 1917.6 800.7 1942.9 817.6 1968.5 836.5 2047.5 897.5 2073 915.9 2097.5 932.4 2122.9 948 2148.6 962.2 2173.1 974 2197.2 983.9 2225.5 993.4 2252.8 1000.2 2280.8 1005 2308.2 1007.3 2335 1007.3 2363.2 1005.3 2394.7 1001.2 2438.3 993.8" stroke="#77AC30"/><path d="M1896.9 627.8 1914.6 631.7 1934.9 638.3 1956.4 647.2 1978.5 658 2002.4 671.4 2026 686.2 2050.5 703.2 2075.8 722.2 2114 753.8 2155 791.2 2201.2 837.2 2273.4 913.6 2296.9 937.7 2322.2 961.2 2333.6 970.4 2344.3 978.1 2356 985.1 2367.1 990.4 2377.9 994.1 2389.1 996.5 2400.4 997.4 2412.6 997.2 2426.2 995.7 2444.6 992.7" stroke="#4DBEEE"/><path d="M1896.9 466.2 1914.2 468 1933.1 471 1953.4 475.3 1973 480.5 1993.6 486.9 2012.7 493.7 2032.5 501.7 2052.8 510.7 2073.4 521 2091.6 530.9 2109.8 541.8 2127.9 553.7 2145.8 566.4 2163.2 580 2180.2 594.4 2194.3 607.4 2208 620.9 2223.2 637.2 2235.6 651.6 2249.3 668.8 2272.6 701.5 2284 719.1 2295.9 739.2 2313.2 771.2 2330.1 806.1 2348.4 848 2384.8 936.8 2394.6 957.5 2403.2 972.7 2408 979.4 2412.6 984.6 2417.3 988.6 2422 991.4 2426.9 993.1 2432.2 993.8 2438 993.6 2445.8 992.5" stroke="#A2142F"/><path d="M1896.9 304.6 1931.9 305.3 1971.1 307.5 2007.7 310.7 2046.6 315.2 2080.2 320.3 2114.2 326.6 2144.6 333.5 2174.4 341.8 2199.8 350.4 2221.1 359 2241.3 368.6 2260.3 379.3 2277.9 391.3 2294.2 404.4 2309.1 418.8 2322.6 434.5 2333.2 449 2344.4 467 2353 483.3 2362.1 503.4 2370.2 524.4 2377.4 546.2 2384.6 572 2390.9 598.4 2397.1 628.4 2402.3 658.5 2411.9 726.2 2418.9 790 2431.5 924.7 2436 965.2 2438.3 979.2 2440.7 987.8 2443.2 991.8 2444.6 992.4 2446.4 992.3" stroke="#0072BD"/><path d="M2007 931.3 2032 946.9 2055.8 960.4 2079.3 971.9 2103.1 982 2128 990.7 2152.6 997.8 2178.6 1003.7 2205.3 1008.2 2231.2 1011.2 2257.3 1012.8 2284.4 1013.1 2311 1012 2336.5 1009.8 2364.3 1006.3 2443.7 992.8" stroke="#D95319"/><path d="M2007 769.6 2039.4 791.5 2074.4 817 2109.5 844 2187.2 905.3 2224.9 933.7 2244.5 947.5 2262.4 959.3 2278.7 969.1 2294.5 977.7 2312.5 986 2330.1 992.5 2346.9 997 2363.9 999.6 2380.6 1000.4 2398.2 999.6 2417.9 997.2 2445.2 992.6" stroke="#EDB120"/><path d="M2007 608 2029.6 619.9 2052.7 633.4 2076.1 648.3 2099.3 664.7 2120.1 680.5 2142.6 699.1 2164.5 718.6 2185.4 738.6 2218.4 773.3 2236.1 793.6 2252.5 813.4 2286.4 857.6 2349.2 944.7 2364.9 963.9 2378.8 977.9 2386.4 984 2393.7 988.6 2401.1 992 2408.6 994.2 2416.2 995.3 2424.4 995.3 2433.5 994.5 2445.8 992.5" stroke="#7E2F8E"/><path d="M2007 446.4 2046.2 460.1 2083.1 475.8 2101.6 484.8 2119.9 494.5 2152.7 514.3 2170 526.2 2184.1 536.6 2210.8 559 2235.6 583.1 2247.2 595.7 2260.4 611.2 2270.7 624.5 2282.4 640.8 2301.7 671.1 2319.9 704.5 2337.6 742.7 2350.3 774.1 2363.4 810.6 2376.6 851.5 2402.6 937.5 2409.7 957.9 2415.9 972.7 2422.5 983.8 2425.9 987.8 2429.3 990.6 2432.7 992.3 2436.5 993.2 2440.7 993.2 2446.2 992.4" stroke="#77AC30"/><path d="M2007 284.8 2044.5 289.6 2078.9 294.7 2109.5 300.1 2139.8 306.4 2169.3 313.5 2194.2 320.5 2217.9 328.4 2237.2 335.9 2258.2 345.6 2275 354.8 2290.6 364.7 2305 375.6 2318.2 387.3 2330.2 400 2341.1 413.6 2351 428.1 2359.9 443.5 2367.9 459.8 2375.1 477 2382.5 498 2389 519.9 2394.8 542.6 2399.8 565.9 2404.8 593.1 2413.2 651.4 2421 724 2426.3 788.9 2435.7 925.8 2439 966.1 2440.7 979.3 2442.4 987.8 2444.2 991.7 2445.2 992.4 2446.5 992.3" stroke="#4DBEEE"/><path d="M2117.1 911.4 2181.1 942.9 2232.5 966 2254.7 974.9 2275.6 982.6 2295.1 988.9 2312.9 993.7 2329 997.2 2344.5 999.7 2359.2 1001.1 2374 1001.4 2388.4 1000.8 2403.7 999.3 2445.9 992.4" stroke="#A2142F"/><path d="M2117.1 749.8 2142.9 768.5 2170 789.2 2197.6 811.8 2222.9 833.7 2247.7 856.4 2271.2 878.9 2348 956.4 2362.3 969.6 2374.3 979.3 2382.9 985.1 2391 989.4 2399 992.6 2406.9 994.7 2414.9 995.6 2423.5 995.6 2433 994.6 2446.1 992.4" stroke="#0072BD"/><path d="M2117.1 588.2 2139.6 603.4 2161.4 619.3 2179.4 633.5 2199.4 650.6 2218.4 668.1 2236.1 686 2252.6 704 2267.9 722 2285.7 745 2301.6 767.6 2317 791.7 2331.6 816.8 2344.1 840.2 2357.4 866.9 2396.2 952.4 2403 965.5 2408.8 975.2 2417.1 985.6 2421.2 989.1 2425.5 991.6 2429.8 993.1 2434.3 993.7 2446.3 992.4" stroke="#D95319"/><path d="M2117.1 426.6 2151.4 443.8 2184.2 462.8 2214.8 483.6 2239.9 503.5 2262.9 524.6 2273.5 535.6 2286 549.7 2295.3 561.3 2306.2 576.1 2316.3 591.1 2325.6 606.4 2339 631.1 2351.9 659.1 2362.9 687 2373.2 717.4 2384.8 758.1 2395.6 803.2 2405.3 851 2421.5 939.1 2428 968.3 2432.1 981.1 2436.2 989 2438.3 991.2 2440.6 992.4 2443.1 992.7 2446.5 992.3" stroke="#EDB120"/><path d="M2117.1 265 2174.1 278.2 2199 285 2222.7 292.2 2244.9 299.9 2262.2 306.8 2281.5 315.6 2296.4 323.5 2310 331.8 2322.6 340.7 2334.1 350.1 2346.5 362.2 2355.8 373 2365.8 386.7 2374.6 401.3 2382.3 416.8 2388.1 430.5 2394.2 447.6 2399.6 465.6 2404.3 484.3 2409.1 507 2413.2 530.5 2420.2 582.6 2425.9 642.7 2430.9 717.5 2434.5 787 2442.3 967.7 2444.2 987.8 2445.2 991.6 2446.6 992.3" stroke="#7E2F8E"/><path d="M2227.1 891.6 2279.8 916.7 2322.7 938.3 2356.5 956.4 2403.8 983.6 2415.4 989.6 2423 992.6 2429.8 993.8 2436.9 993.8 2446.5 992.3" stroke="#77AC30"/><path d="M2227.1 730 2261.3 757.1 2291.2 783.4 2318.9 810.7 2343.4 838.1 2355.2 852.8 2366.7 868.4 2377.5 884.4 2387.3 900.2 2402.7 928.4 2424 973.8 2430.1 984.9 2433.7 989.4 2437.3 992 2441.2 992.9 2446.6 992.3" stroke="#4DBEEE"/><path d="M2227.1 568.4 2250.4 587.5 2271.9 607 2291.4 626.7 2309.1 646.4 2324.9 666.1 2341 688.7 2354.9 711 2366.7 732.6 2376.8 753.5 2385.3 773.5 2393.5 795.2 2401 817.9 2409.3 847.5 2416.7 878.6 2423.1 909.7 2432.8 963.2 2436.2 978.6 2438.4 985.9 2440.8 990.4 2443.3 992.3 2446.6 992.3" stroke="#A2142F"/><path d="M2227.1 406.8 2256.7 426.6 2283.4 447.5 2303.9 466 2325.1 488.5 2343.3 511.6 2352.5 525.1 2360.8 538.7 2375.2 566.5 2386.9 594.5 2396.5 622.7 2405 654.1 2412.4 688.3 2419.1 727.5 2424.7 770 2429.6 818.3 2441.3 973.9 2443.7 989.2 2444.9 991.9 2446.6 992.3" stroke="#0072BD"/><path d="M2227.1 245.1 2267.9 259.6 2288.3 267.9 2303.3 274.7 2320.5 283.5 2333 290.7 2344.4 298.2 2357.2 307.9 2366.3 315.9 2376.5 326.4 2383.7 335.1 2391.6 346.5 2398.5 358.4 2404.4 370.9 2409.5 384 2414 397.6 2421.1 426.7 2427.4 464.5 2432.1 508.6 2435.9 562.1 2438.5 620.5 2440.6 688.2 2445.2 964.3 2445.9 987.1 2446.7 992.3" stroke="#D95319"/><path d="M1896.5 990.7 1889.1 991.2 1880.5 990.8 1857.8 987.7 1826.9 981.2 1793.5 972.4 1760.8 962.3 1729.8 951.3 1702.4 940.2 1676 927.8 1655.1 916.6 1634.1 903.9 1615.3 890.8 1596.8 876 1580.7 861.2 1565.1 844.8 1550.1 826.6 1537.5 809.1 1525.6 790 1514.2 769.5 1505 750.6 1495 727.1 1485.6 702.1 1476.9 675.9 1468.9 648.4 1460.6 616 1448.7 561.8 1437.5 499.4 1426.3 425.4 1405 267.4 1399.6 234.9 1394.4 212.6 1391.7 204.7 1388.8 198.4 1385.6 193.7 1382 190.5 1378.2 188.5 1373.4 187.1 1353.9 184.7" stroke="#EDB120"/><path d="M1896.5 829.1 1892.6 836.8 1887.4 841.7 1884.2 843.3 1880.4 844.4 1871.8 844.6 1861.3 842.4 1849.3 837.8 1836 830.6 1822.5 821.6 1809.2 811.2 1796.4 799.6 1783.8 786.5 1772.2 773 1761 758.5 1749.8 742.2 1739.4 725.2 1729.8 707.8 1721.2 690.4 1712.9 671.7 1705.7 653.3 1698.9 634.1 1692.6 614.1 1687 593.4 1682.1 572.2 1678.2 552.6 1674.8 531.1 1672.5 511.6 1670.7 490.7 1670 471.9 1670.2 453.9 1671.2 436.6 1673.2 420.2 1675.8 406.2 1680.8 388 1687.1 372.7 1695.6 357.9 1705.2 345.9 1716.7 335.4 1730.3 326.4 1746.1 318.9 1764.3 312.8 1785.3 308.1 1809.2 304.7 1836.4 302.7 1864.6 302 1898.6 302.7 1933.3 304.6 1970.8 307.9 2011 312.7 2042.3 317.4 2070.8 322.4 2099.5 328.3 2124.5 334.2 2149.1 341 2169.8 347.5 2193.2 355.9 2212.4 363.9 2230.7 372.6 2248.1 382.2 2264.5 392.6 2279.8 403.9 2291.8 414 2305.1 427 2317.3 440.8 2328.5 455.6 2338.8 471.2 2348 487.6 2356.5 504.8 2364.1 522.7 2370.9 541.3 2378.1 563.5 2384.4 586.3 2390 609.5 2395.6 636.1 2400.5 662.7 2410.1 726.9 2418.5 798.4 2428.5 901.5" stroke="#7E2F8E"/><path d="M1896.5 667.5 1901.3 677.3 1908 686.8 1916.9 696.4 1929.5 707.7 1990.4 756.1 2022.3 782.2 2134.5 878.6 2172.4 910.1 2193.6 926.8 2212.7 941 2230.7 953.5 2248.7 964.8 2272.7 978.1 2294.8 988 2316.9 995.3 2338.7 999.9 2359.7 1001.8 2382.3 1001.5 2407.3 998.9 2440.7 993.4" stroke="#77AC30"/><path d="M1896.5 505.9 1904.9 511.5 1916.4 518 1967.7 544 1993 557.5 2014.6 569.8 2034.2 581.8 2058.6 597.9 2082 614.7 2106 633.4 2127.9 652.1 2155.5 677.9 2180.2 703.4 2205.3 732.1 2230.2 763.3 2251.3 792.1 2272.8 823.7 2343.9 935.8 2357.6 955 2370 969.9 2378.5 978.2 2386.7 984.7 2395 989.7 2403.4 993.1 2411.8 994.9 2421 995.5 2431.1 994.8 2444.7 992.7" stroke="#4DBEEE"/><path d="M1896.5 344.3 1940.6 347.6 1972.8 350.7 2005.8 354.7 2036.2 359.3 2066.7 364.9 2093.5 370.9 2118.3 377.5 2143.3 385.4 2165.5 393.7 2187.2 403.2 2208.3 414.1 2226 424.8 2243 436.7 2259 449.8 2274.1 464.1 2288.2 479.6 2299.5 493.9 2310 508.9 2319.8 524.7 2330.3 544 2338.6 561.3 2347.4 582 2355.4 603.3 2363.6 628.1 2370.9 653.2 2378.1 681.3 2385.1 712 2391.7 744.5 2403 808.9 2421.4 928.5 2428 963.5 2432.1 978.6 2436.1 987.9 2438.2 990.5 2440.4 992.1 2442.9 992.7 2446.2 992.4" stroke="#A2142F"/><path d="M2006.6 970.9 2021.7 981.4 2037.8 990.2 2055.5 997.9 2075.8 1004.5 2097.9 1010 2122.4 1014.5 2148.1 1017.6 2176 1019.7 2204.5 1020.6 2233.3 1020.3 2262.2 1019 2292.3 1016.5 2321 1013.2 2351.7 1008.8 2441.5 993.2" stroke="#0072BD"/><path d="M2006.6 809.3 2040.6 841.4 2076.1 873.1 2107.9 899.9 2136.7 922.4 2164.2 942.1 2189.9 958.4 2215.4 972.6 2239.4 983.7 2262.5 992.3 2285 998.6 2307.3 1002.7 2330.3 1004.8 2353.4 1004.9 2377.9 1003.1 2405.6 999.4 2444.1 992.8" stroke="#D95319"/><path d="M2006.6 647.7 2039.4 672.8 2071.6 699.4 2103.4 727.7 2133.6 756.6 2161.5 785.1 2191.1 817.1 2269.7 907.5 2291.6 931.7 2313.5 954.1 2332.6 970.7 2345.9 980.3 2358.4 987.4 2370.7 992.5 2383.3 995.9 2395.9 997.5 2409.6 997.5 2424.7 996 2445.2 992.6" stroke="#EDB120"/><path d="M2006.6 486.1 2038.7 500.6 2069.1 516.2 2096.1 532.1 2123.6 550.3 2148.7 569.2 2173.2 590.1 2196.7 612.8 2217 634.9 2237.9 660.5 2258.8 689.4 2277.6 718.9 2297 753.1 2312.7 783.8 2328.3 817.3 2379.1 936.2 2388 954.5 2396.2 968.6 2401.7 976.5 2407.2 982.9 2412.6 987.7 2418.3 991.2 2423.9 993.2 2430 994.1 2436.8 993.8 2445.9 992.4" stroke="#7E2F8E"/><path d="M2006.6 324.5 2039.5 327.2 2069.6 330.5 2098.3 334.5 2124.7 339.2 2148.3 344.3 2171.7 350.4 2194.7 357.7 2214.1 365.1 2232.8 373.6 2248.1 381.8 2265.1 392.4 2278.8 402.5 2293.7 415.5 2305.6 427.6 2316.7 440.7 2328.6 457.1 2337.9 472.2 2346.5 488.2 2354.3 504.9 2362.7 525.4 2369.1 543.6 2375.9 565.6 2382 588.1 2388.2 614.3 2398.9 670.2 2408.8 736.5 2416.8 803.6 2429.8 929.1 2434.2 963.2 2436.9 978.2 2439.6 987.5 2442.5 991.8 2444.2 992.5 2446.4 992.3" stroke="#77AC30"/><path d="M2116.7 951.1 2135.5 961.8 2154.5 971.5 2173.6 980 2192.4 987.3 2211.8 993.7 2230.5 998.8 2250.1 1003 2269.4 1006 2287.2 1007.7 2305.6 1008.6 2324.6 1008.5 2343.9 1007.5 2363.6 1005.6 2385.4 1002.7 2445.3 992.6" stroke="#4DBEEE"/><path d="M2116.7 789.5 2154.3 825.2 2231.5 901.4 2261.6 930 2278 944.7 2293.7 957.7 2307.8 968.3 2320.5 976.7 2335 984.9 2348.8 991 2362.7 995.3 2376.6 997.9 2390.7 998.8 2405.7 998.3 2422.5 996.4 2445.7 992.5" stroke="#A2142F"/><path d="M2116.7 627.9 2148.5 655.1 2179.1 684.8 2207.8 716.3 2235.8 750.9 2256.2 778.9 2277.3 810.1 2301.3 848.6 2352.6 935 2366.9 956.5 2379.5 972.2 2387 979.8 2394.2 985.6 2401.5 990 2408.9 993 2416.5 994.6 2424.6 995.1 2433.7 994.4 2446 992.4" stroke="#0072BD"/><path d="M2116.7 466.3 2143.5 480.9 2169.8 497.5 2192.7 514.3 2214.5 532.8 2235.1 552.8 2254.2 574.3 2271.8 597.1 2287.9 621 2304 648.3 2318.3 676.2 2332 707 2346 742.6 2356.1 771.6 2365.6 801.3 2376.7 839.5 2402 930.7 2408.9 952.5 2414.9 968.4 2421.8 981.9 2425.3 986.5 2428.8 989.9 2432.4 992 2436.3 993.1 2440.5 993.2 2446.3 992.4" stroke="#D95319"/><path d="M2116.7 304.6 2142.7 308.3 2165.2 312.1 2187.3 316.7 2208.7 322 2229.2 328.2 2246.1 334.3 2262 341.2 2277.1 348.9 2291.3 357.4 2304.4 366.9 2316.7 377.3 2327.9 388.6 2338.3 400.9 2347.8 414.2 2356.4 428.5 2364.3 443.7 2371.4 459.8 2377.8 476.8 2383.6 494.6 2388.9 513.1 2398.6 555.2 2407.3 606 2414.8 664.1 2421.3 729.5 2426.2 790.8 2435.3 923.2 2438.6 963.4 2440.4 978.2 2442.1 987.3 2444 991.6 2445.1 992.3 2446.6 992.3" stroke="#EDB120"/><path d="M2226.7 931.3 2263.8 954.9 2295.4 972.8 2322.3 985.5 2334.6 990.2 2346 993.7 2357.1 996.4 2367.7 998.2 2378.5 999.3 2389.7 999.5 2413.2 997.7 2446.1 992.4" stroke="#7E2F8E"/><path d="M2226.7 769.7 2253.8 801 2278.8 832.7 2306.1 870.2 2357.5 944.8 2370.8 962.1 2381.9 974.6 2389.4 981.5 2396.4 986.8 2403.5 990.7 2410.6 993.3 2417.9 994.7 2425.7 995 2434.4 994.3 2446.3 992.4" stroke="#77AC30"/><path d="M2226.7 608 2240.7 623.1 2253.9 638.6 2266.3 654.3 2277.9 670.3 2288.7 686.4 2300.3 705.3 2311 724 2320.7 742.5 2336.5 775.7 2351.6 811.5 2367.5 853.7 2398 941.1 2405.7 960.4 2412.8 974.7 2420.2 985.2 2423.8 988.7 2427.6 991.2 2431.4 992.8 2435.5 993.4 2446.4 992.4" stroke="#4DBEEE"/><path d="M2226.7 446.4 2248.8 463.4 2266.6 479.5 2283.1 496.6 2300.2 517.5 2313.7 536.8 2327.5 559.8 2339.8 583.7 2351.8 611.4 2362.2 639.6 2371.2 667.9 2380.5 702 2388.9 738 2401.1 800.9 2422.1 931.5 2429.5 968.8 2433.2 981.3 2437 988.9 2438.9 991.1 2441 992.3 2443.4 992.7 2446.5 992.3" stroke="#A2142F"/><path d="M2226.7 284.8 2246.2 289.8 2261.5 294.3 2278.8 300.4 2292.3 305.9 2307.2 313.2 2318.8 319.9 2329.4 327.1 2339.3 334.9 2348.3 343.4 2356.6 352.4 2364.2 362.2 2372.5 374.7 2378.7 385.9 2385.4 400.2 2390.4 412.9 2395.9 429 2404.3 460.8 2411.7 498.6 2418 542.2 2423.5 594.8 2428.1 654.9 2432.1 722.3 2442.2 964.1 2444.2 987.2 2445.2 991.5 2446.6 992.3" stroke="#0072BD"/><path d="M2336.8 911.5 2368.5 938.9 2409.4 979 2419.2 987.5 2425.4 991.3 2431.4 993.2 2437.8 993.6 2446.6 992.3" stroke="#D95319"/><path d="M2336.8 749.9 2350.8 772 2362.7 793.1 2374.9 817.8 2385.7 842.7 2394.3 864.9 2402.2 887.9 2410.4 914.1 2424.6 963.6 2431 981.5 2434.4 987.7 2437.8 991.3 2441.5 992.7 2446.6 992.3" stroke="#EDB120"/><path d="M2336.8 588.2 2345.1 601.6 2354.4 618.3 2368.8 648.4 2375.6 665 2382.9 684.7 2394.6 723 2405.4 767.7 2414.4 815.4 2421.2 859.8 2432.5 948.3 2436.6 974.3 2438.7 983.6 2441 989.5 2443.4 992.2 2446.6 992.3" stroke="#7E2F8E"/><path d="M2336.8 426.6 2350.3 443.9 2362.1 461.8 2372.3 480.4 2381.2 499.7 2388.9 519.5 2396.5 543.2 2402.9 567.4 2408.9 595.5 2413.3 620.1 2417.5 648.1 2424.9 712.4 2431.6 798.7 2441.2 966.4 2443.6 987.7 2444.9 991.6 2446.6 992.3" stroke="#77AC30"/><path d="M2336.8 265 2356.3 275.8 2372.4 287.6 2385.6 300.4 2391.2 307.4 2397.5 316.5 2402 324.2 2407 334.3 2414.4 354.2 2420.9 378.7 2425.8 405.7 2430 438.3 2433.4 476.9 2436.1 521.7 2438.4 575.7 2441.8 711.1 2445.3 967.5 2445.9 987.6 2446.7 992.3" stroke="#4DBEEE"/></g>
<line x1="1347.9" y1="992.1" x2="1347.9" y2="184" class="a"/>
<line x1="1347.9" y1="992.1" x2="1896.3" y2="1091.4" class="a"/>
<line x1="1896.3" y1="1091.4" x2="2446.7" y2="992.3" class="a"/>
<line x1="1347.9" y1="992.1" x2="1330.2" y2="988.9" class="a"/>
<line x1="1347.9" y1="992.1" x2="1334.1" y2="994.6" class="a"/>
<line x1="1896.3" y1="1091.4" x2="1910.1" y2="1093.9" class="a"/>
<line x1="1347.9" y1="911.3" x2="1330.2" y2="908.1" class="a"/>
<line x1="1402.7" y1="1002" x2="1389" y2="1004.5" class="a"/>
<line x1="1951.3" y1="1081.5" x2="1965.1" y2="1084" class="a"/>
<line x1="1347.9" y1="830.5" x2="1330.2" y2="827.3" class="a"/>
<line x1="1457.6" y1="1012" x2="1443.8" y2="1014.4" class="a"/>
<line x1="2006.4" y1="1071.6" x2="2020.2" y2="1074.1" class="a"/>
<line x1="1347.9" y1="749.7" x2="1330.2" y2="746.5" class="a"/>
<line x1="1512.4" y1="1021.9" x2="1498.6" y2="1024.4" class="a"/>
<line x1="2061.4" y1="1061.7" x2="2075.2" y2="1064.2" class="a"/>
<line x1="1347.9" y1="668.9" x2="1330.2" y2="665.7" class="a"/>
<line x1="1567.3" y1="1031.8" x2="1553.5" y2="1034.3" class="a"/>
<line x1="2116.5" y1="1051.8" x2="2130.2" y2="1054.3" class="a"/>
<line x1="1347.9" y1="588" x2="1330.2" y2="584.8" class="a"/>
<line x1="1622.1" y1="1041.8" x2="1608.3" y2="1044.2" class="a"/>
<line x1="2171.5" y1="1041.9" x2="2185.3" y2="1044.3" class="a"/>
<line x1="1347.9" y1="507.2" x2="1330.2" y2="504" class="a"/>
<line x1="1676.9" y1="1051.7" x2="1663.2" y2="1054.2" class="a"/>
<line x1="2226.5" y1="1031.9" x2="2240.3" y2="1034.4" class="a"/>
<line x1="1347.9" y1="426.4" x2="1330.2" y2="423.2" class="a"/>
<line x1="1731.8" y1="1061.6" x2="1718" y2="1064.1" class="a"/>
<line x1="2281.6" y1="1022" x2="2295.4" y2="1024.5" class="a"/>
<line x1="1347.9" y1="345.6" x2="1330.2" y2="342.4" class="a"/>
<line x1="1786.6" y1="1071.5" x2="1772.8" y2="1074" class="a"/>
<line x1="2336.6" y1="1012.1" x2="2350.4" y2="1014.6" class="a"/>
<line x1="1347.9" y1="264.8" x2="1330.2" y2="261.6" class="a"/>
<line x1="1841.5" y1="1081.5" x2="1827.7" y2="1084" class="a"/>
<line x1="2391.7" y1="1002.2" x2="2405.4" y2="1004.7" class="a"/>
<line x1="1347.9" y1="184" x2="1330.2" y2="180.8" class="a"/>
<line x1="1896.3" y1="1091.4" x2="1882.5" y2="1093.9" class="a"/>
<line x1="2446.7" y1="992.3" x2="2460.5" y2="994.8" class="a"/>
<text class="t" transform="translate(1315.9 1004.1) scale(0.85 1)" text-anchor="end">0</text>
<text class="t" transform="translate(1315.7 1040.6) scale(0.85 1)" text-anchor="end">0</text>
<text class="t" transform="translate(1927.0 1140.1) scale(0.85 1)" text-anchor="start">0</text>
<text class="t" transform="translate(1315.9 923.3) scale(0.85 1)" text-anchor="end">0.1</text>
<text class="t" transform="translate(1370.5 1050.5) scale(0.85 1)" text-anchor="end">0.1</text>
<text class="t" transform="translate(1982.0 1130.2) scale(0.85 1)" text-anchor="start">0.1</text>
<text class="t" transform="translate(1315.9 842.5) scale(0.85 1)" text-anchor="end">0.2</text>
<text class="t" transform="translate(1425.4 1060.5) scale(0.85 1)" text-anchor="end">0.2</text>
<text class="t" transform="translate(2037.1 1120.3) scale(0.85 1)" text-anchor="start">0.2</text>
<text class="t" transform="translate(1315.9 761.7) scale(0.85 1)" text-anchor="end">0.3</text>
<text class="t" transform="translate(1480.2 1070.4) scale(0.85 1)" text-anchor="end">0.3</text>
<text class="t" transform="translate(2092.1 1110.4) scale(0.85 1)" text-anchor="start">0.3</text>
<text class="t" transform="translate(1315.9 680.9) scale(0.85 1)" text-anchor="end">0.4</text>
<text class="t" transform="translate(1535.1 1080.3) scale(0.85 1)" text-anchor="end">0.4</text>
<text class="t" transform="translate(2147.2 1100.5) scale(0.85 1)" text-anchor="start">0.4</text>
<text class="t" transform="translate(1315.9 600.0) scale(0.85 1)" text-anchor="end">0.5</text>
<text class="t" transform="translate(1589.9 1090.2) scale(0.85 1)" text-anchor="end">0.5</text>
<text class="t" transform="translate(2202.2 1090.6) scale(0.85 1)" text-anchor="start">0.5</text>
<text class="t" transform="translate(1315.9 519.2) scale(0.85 1)" text-anchor="end">0.6</text>
<text class="t" transform="translate(1644.7 1100.2) scale(0.85 1)" text-anchor="end">0.6</text>
<text class="t" transform="translate(2257.2 1080.6) scale(0.85 1)" text-anchor="start">0.6</text>
<text class="t" transform="translate(1315.9 438.4) scale(0.85 1)" text-anchor="end">0.7</text>
<text class="t" transform="translate(1699.6 1110.1) scale(0.85 1)" text-anchor="end">0.7</text>
<text class="t" transform="translate(2312.3 1070.7) scale(0.85 1)" text-anchor="start">0.7</text>
<text class="t" transform="translate(1315.9 357.6) scale(0.85 1)" text-anchor="end">0.8</text>
<text class="t" transform="translate(1754.4 1120.0) scale(0.85 1)" text-anchor="end">0.8</text>
<text class="t" transform="translate(2367.3 1060.8) scale(0.85 1)" text-anchor="start">0.8</text>
<text class="t" transform="translate(1315.9 276.8) scale(0.85 1)" text-anchor="end">0.9</text>
<text class="t" transform="translate(1809.3 1130.0) scale(0.85 1)" text-anchor="end">0.9</text>
<text class="t" transform="translate(2422.4 1050.9) scale(0.85 1)" text-anchor="start">0.9</text>
<text class="t" transform="translate(1315.9 196.0) scale(0.85 1)" text-anchor="end">1</text>
<text class="t" transform="translate(1864.1 1139.9) scale(0.85 1)" text-anchor="end">1</text>
<text class="t" transform="translate(2477.4 1041.0) scale(0.85 1)" text-anchor="start">1</text>
<text class="l" transform="translate(98.7 119.8) scale(0.85 1)" text-anchor="middle">z</text>
<text class="l" transform="translate(395.0 1186.0) scale(0.85 1)" text-anchor="middle">x</text>
<text class="l" transform="translate(903.6 1184.2) scale(0.85 1)" text-anchor="middle">y</text>
<text class="l" transform="translate(1347.7 136.0) scale(0.85 1)" text-anchor="middle">z</text>
<text class="l" transform="translate(1643.9 1184.8) scale(0.85 1)" text-anchor="middle">x</text>
<text class="l" transform="translate(2149.8 1185.5) scale(0.85 1)" text-anchor="middle">y</text>
<text class="h" x="234" y="56">A</text>
<text class="h" x="1473" y="60">B</text>
</svg>
</body></html>
